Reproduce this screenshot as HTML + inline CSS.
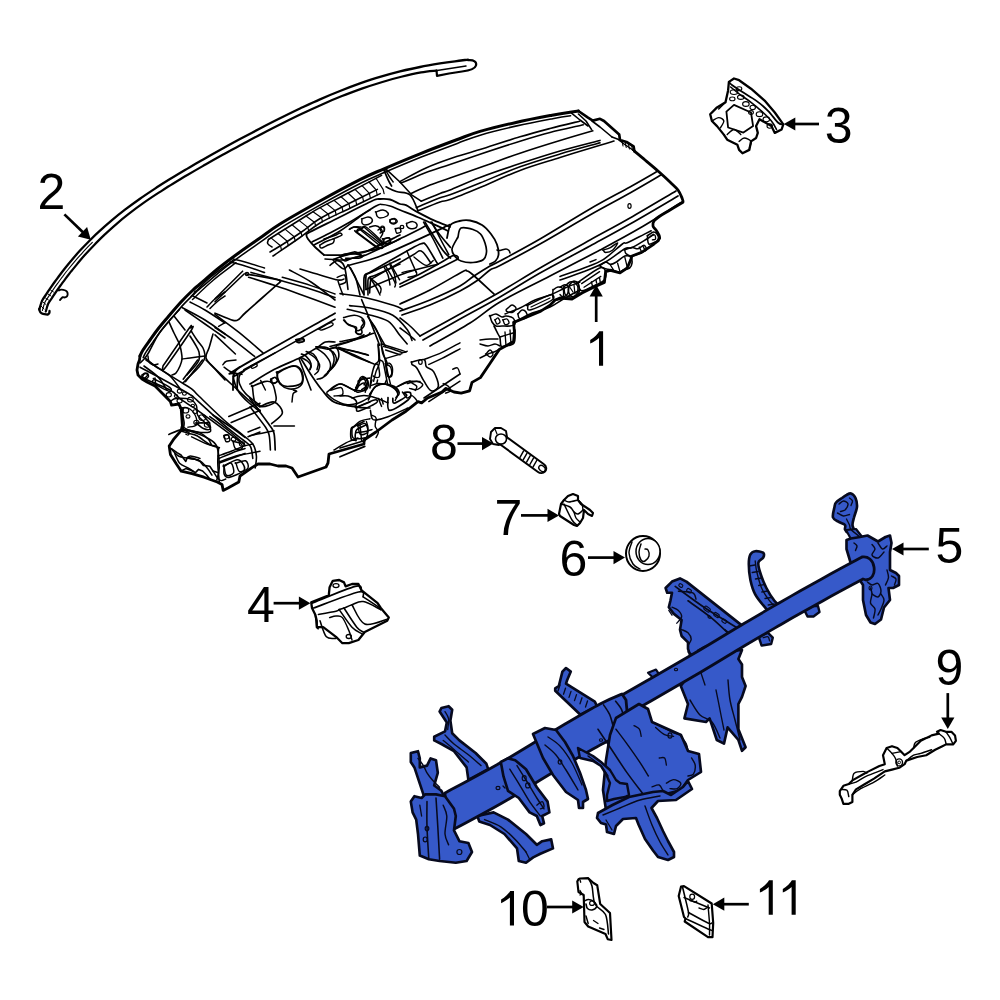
<!DOCTYPE html>
<html><head><meta charset="utf-8"><title>Instrument Panel Diagram</title>
<style>
html,body{margin:0;padding:0;background:#fff;width:1000px;height:1000px;overflow:hidden}
svg{display:block}
text{font-family:"Liberation Sans",sans-serif;font-size:50px;fill:#000}
</style></head><body>
<svg width="1000" height="1000" viewBox="0 0 1000 1000">
<rect width="1000" height="1000" fill="#fff"/>
<path d="M603.1,331.3 L599.3,331.3 C598.0,333.9 594.2,337.5 590.2,340.0 L590.2,343.6 C593.2,342.3 597.0,339.8 599.0,337.9 L599.0,365.8 L603.1,365.8 Z" fill="#000"/><text x="37.5" y="209.1">2</text><text x="824.8" y="143.3">3</text><text x="246.9" y="621.5">4</text><text x="935.6" y="563.4">5</text><text x="559.5" y="576.2">6</text><text x="494.4" y="534.7">7</text><text x="430.1" y="459.9">8</text><text x="935.6" y="685.2">9</text><path d="M514.0,890.9 L510.2,890.9 C508.9,893.5 505.1,897.1 501.1,899.6 L501.1,903.2 C504.1,901.9 507.9,899.4 509.9,897.5 L509.9,925.4 L514.0,925.4 Z" fill="#000"/><text x="520.9" y="925.9">0</text><path d="M772.8,880.3 L769.0,880.3 C767.7,882.9 763.9,886.5 759.9,889.0 L759.9,892.6 C762.9,891.3 766.7,888.8 768.7,886.9 L768.7,914.7 L772.8,914.7 Z" fill="#000"/><path d="M795.7,880.3 L791.9,880.3 C790.6,882.9 786.8,886.5 782.8,889.0 L782.8,892.6 C785.8,891.3 789.6,888.8 791.6,886.9 L791.6,914.7 L795.7,914.7 Z" fill="#000"/><line x1="596.2" y1="322.0" x2="596.2" y2="295.5" stroke="#000" stroke-width="2.7"/><path d="M596.2,285.0 L602.8,296.5 L589.6,296.5 Z" fill="#000"/><line x1="64.4" y1="214.4" x2="83.2" y2="232.5" stroke="#000" stroke-width="2.7"/><path d="M90.8,239.8 L77.9,236.6 L87.1,227.1 Z" fill="#000"/><line x1="819.0" y1="124.0" x2="794.3" y2="124.0" stroke="#000" stroke-width="2.7"/><path d="M783.8,124.0 L795.3,117.4 L795.3,130.6 Z" fill="#000"/><line x1="273.6" y1="603.2" x2="299.9" y2="603.2" stroke="#000" stroke-width="2.7"/><path d="M310.4,603.2 L298.9,609.8 L298.9,596.6 Z" fill="#000"/><line x1="928.8" y1="549.0" x2="902.5" y2="549.0" stroke="#000" stroke-width="2.7"/><path d="M892.0,549.0 L903.5,542.4 L903.5,555.6 Z" fill="#000"/><line x1="588.0" y1="557.6" x2="614.5" y2="557.6" stroke="#000" stroke-width="2.7"/><path d="M625.0,557.6 L613.5,564.2 L613.5,551.0 Z" fill="#000"/><line x1="521.0" y1="515.4" x2="548.5" y2="515.4" stroke="#000" stroke-width="2.7"/><path d="M559.0,515.4 L547.5,522.0 L547.5,508.8 Z" fill="#000"/><line x1="457.5" y1="443.6" x2="483.0" y2="443.6" stroke="#000" stroke-width="2.7"/><path d="M493.5,443.6 L482.0,450.2 L482.0,437.0 Z" fill="#000"/><line x1="947.8" y1="693.1" x2="947.8" y2="718.6" stroke="#000" stroke-width="2.7"/><path d="M947.8,729.1 L941.2,717.6 L954.4,717.6 Z" fill="#000"/><line x1="547.0" y1="907.0" x2="573.2" y2="907.0" stroke="#000" stroke-width="2.7"/><path d="M583.7,907.0 L572.2,913.6 L572.2,900.4 Z" fill="#000"/><line x1="748.8" y1="904.2" x2="723.3" y2="904.2" stroke="#000" stroke-width="2.7"/><path d="M712.8,904.2 L724.3,897.6 L724.3,910.8 Z" fill="#000"/><path d="M39.3,309.5 C39.8,308.1 40.9,303.4 42.0,300.9 C43.1,298.4 44.7,296.7 46.0,294.6 C47.3,292.6 48.5,290.8 50.0,288.7 C51.5,286.5 53.3,283.8 55.0,281.5 C56.7,279.2 58.2,277.1 60.0,274.7 C61.8,272.3 64.0,269.5 66.0,267.0 C68.0,264.5 69.7,262.4 72.0,259.7 C74.3,257.0 77.0,253.9 80.0,250.6 C83.0,247.4 86.7,243.5 90.0,240.2 C93.3,236.8 96.3,233.9 100.0,230.6 C103.7,227.3 107.8,223.6 112.0,220.1 C116.2,216.6 120.3,213.3 125.0,209.7 C129.7,206.1 135.0,202.2 140.0,198.7 C145.0,195.2 150.0,191.9 155.0,188.6 C160.0,185.3 165.0,182.2 170.0,179.1 C175.0,176.0 180.0,173.0 185.0,170.0 C190.0,167.1 194.2,164.6 200.0,161.3 C205.8,158.0 213.3,153.7 220.0,150.0 C226.7,146.3 233.3,142.7 240.0,139.1 C246.7,135.5 253.3,132.0 260.0,128.5 C266.7,125.0 273.3,121.6 280.0,118.3 C286.7,114.9 293.3,111.7 300.0,108.5 C306.7,105.4 313.3,102.3 320.0,99.4 C326.7,96.4 333.3,93.6 340.0,91.0 C346.7,88.3 353.3,85.8 360.0,83.4 C366.7,81.1 373.3,78.9 380.0,76.9 C386.7,74.9 393.3,73.1 400.0,71.4 C406.7,69.8 413.3,68.3 420.0,67.0 C426.7,65.7 434.2,64.4 440.0,63.4 C445.8,62.5 450.3,61.9 455.0,61.3 C459.7,60.6 465.8,59.9 468.0,59.6" fill="none" stroke="#000" stroke-linejoin="round" stroke-linecap="round" stroke-width="2.3"/><path d="M45.8,311.5 C46.2,310.2 47.2,305.9 48.2,303.7 C49.2,301.5 50.5,300.2 51.7,298.4 C52.9,296.5 54.1,294.6 55.6,292.5 C57.1,290.3 58.9,287.7 60.5,285.5 C62.2,283.2 63.6,281.2 65.4,278.8 C67.2,276.4 69.4,273.7 71.3,271.2 C73.3,268.8 74.9,266.8 77.1,264.1 C79.4,261.4 81.9,258.3 84.8,255.1 C87.7,251.8 91.3,248.0 94.5,244.7 C97.7,241.3 100.6,238.5 104.1,235.1 C107.7,231.8 111.7,228.1 115.8,224.6 C119.8,221.1 123.8,217.7 128.4,214.2 C133.0,210.6 138.2,206.7 143.2,203.2 C148.1,199.7 153.1,196.4 158.0,193.2 C163.0,190.0 167.9,186.8 172.9,183.8 C177.9,180.7 182.8,177.7 187.8,174.8 C192.8,171.8 196.9,169.4 202.7,166.1 C208.5,162.8 216.0,158.5 222.7,154.8 C229.3,151.2 236.0,147.5 242.6,144.0 C249.3,140.4 255.9,136.8 262.5,133.4 C269.2,129.9 275.8,126.5 282.5,123.2 C289.1,119.9 295.7,116.6 302.4,113.5 C309.0,110.3 315.6,107.3 322.2,104.4 C328.8,101.5 335.4,98.7 342.0,96.1 C348.6,93.4 355.2,91.0 361.8,88.6 C368.4,86.3 375.0,84.2 381.6,82.2 C388.2,80.2 394.7,78.4 401.3,76.8 C407.9,75.1 415.2,73.4 421.1,72.4 C426.9,71.3 433.9,70.9 436.5,70.6" fill="none" stroke="#000" stroke-linejoin="round" stroke-linecap="round" stroke-width="2.2"/><path d="M42.4,310.5 C42.8,309.1 43.9,304.6 44.9,302.2 C46.0,299.9 47.4,298.4 48.7,296.4 C50.0,294.4 51.2,292.6 52.6,290.5 C54.1,288.3 55.9,285.7 57.6,283.4 C59.3,281.1 60.7,279.0 62.6,276.6 C64.4,274.2 66.5,271.4 68.5,269.0 C70.5,266.5 72.1,264.5 74.4,261.8 C76.7,259.1 79.4,256.0 82.4,252.8 C85.3,249.6 90.7,244.1 92.3,242.4" fill="none" stroke="#000" stroke-linejoin="round" stroke-linecap="round" stroke-width="1.1"/><path d="M468,60.2 C474,59.6 477,62 476,65.5 C475,69 470,70.5 462,71.5 L449,73.5 L437,75.8 L436.5,70.5" fill="none" stroke="#000" stroke-linejoin="round" stroke-linecap="round" stroke-width="2.2"/><path d="M437,70.5 L466,66" fill="none" stroke="#000" stroke-linejoin="round" stroke-linecap="round" stroke-width="1.5"/><path d="M39.3,309 C39.5,312 41,313.5 43,313.8 L47.6,314.6 C49,314 49.8,313 49.5,311" fill="none" stroke="#000" stroke-linejoin="round" stroke-linecap="round" stroke-width="2.3"/><path d="M41,306 L44,309 M43,302 L46,304.5 M45.5,298 L48.5,300 M48,294 L51,296 M50.5,290 L53.5,292" fill="none" stroke="#000" stroke-linejoin="round" stroke-linecap="round" stroke-width="1"/><path d="M58.8,290.5 C60.5,289 63,289.5 65.5,290.5 C68.5,292 68.5,296.5 65,297.5 L62.5,297.2 C61,298.5 60.5,299.5 60,300" fill="none" stroke="#000" stroke-linejoin="round" stroke-linecap="round" stroke-width="1.8"/><path d="M140.0,356.0 C140.5,355.0 141.3,352.7 143.0,350.0 C144.7,347.3 147.5,343.5 150.0,340.0 C152.5,336.5 155.0,332.8 158.0,329.0 C161.0,325.2 164.2,321.5 168.0,317.0 C171.8,312.5 176.8,306.5 181.0,302.0 C185.2,297.5 189.8,293.0 193.0,290.0 C196.2,287.0 195.5,287.8 200.0,284.0 C204.5,280.2 213.3,272.3 220.0,267.0 C226.7,261.7 233.3,256.8 240.0,252.0 C246.7,247.2 253.3,242.7 260.0,238.0 C266.7,233.3 270.0,230.2 280.0,224.0 C290.0,217.8 306.7,208.4 320.0,201.0 C333.3,193.6 349.3,185.0 360.0,179.6 C370.7,174.2 374.0,173.1 384.0,168.8 C394.0,164.5 408.0,158.6 420.0,153.8 C432.0,149.0 446.0,143.7 456.0,140.0 C466.0,136.3 470.0,134.3 480.0,131.4 C490.0,128.5 504.0,125.1 516.0,122.4 C528.0,119.7 543.0,116.9 552.0,115.2 C561.0,113.5 565.6,112.9 570.0,112.2 C574.4,111.5 577.0,111.2 578.4,111.0" fill="none" stroke="#000" stroke-linejoin="round" stroke-linecap="round" stroke-width="3.05"/><path d="M143.2,357.6 C143.7,356.7 144.4,354.5 146.1,351.9 C147.7,349.3 150.5,345.5 152.9,342.1 C155.4,338.6 157.9,335.0 160.8,331.2 C163.8,327.4 166.9,323.8 170.7,319.3 C174.5,314.9 179.5,308.9 183.6,304.4 C187.8,300.0 192.4,295.6 195.5,292.6 C198.6,289.7 197.9,290.5 202.3,286.7 C206.8,282.9 215.6,275.1 222.2,269.8 C228.9,264.5 235.5,259.7 242.1,254.9 C248.7,250.1 255.4,245.6 262.1,240.9 C268.7,236.3 271.9,233.2 281.9,227.1 C291.8,220.9 308.5,211.5 321.7,204.1 C335.0,196.8 351.0,188.2 361.6,182.8 C372.2,177.5 375.5,176.4 385.4,172.1 C395.4,167.8 409.4,161.9 421.3,157.1 C433.3,152.4 447.3,147.1 457.3,143.4 C467.2,139.7 471.1,137.8 481.0,134.9 C490.9,131.9 504.8,128.6 516.8,125.9 C528.7,123.2 543.7,120.4 552.7,118.7 C561.6,117.0 567.6,116.2 570.6,115.8" fill="none" stroke="#000" stroke-linejoin="round" stroke-linecap="round" stroke-width="1.59"/><path d="M578.4,111.0 L588.0,117.6 L592.8,120.6 L600.0,118.8 L604.0,121.0 L619.2,134.4 L620.0,140.0 L626.5,142.0 L633.6,146.4 L634.4,151.2" fill="none" stroke="#000" stroke-linejoin="round" stroke-linecap="round" stroke-width="2.68"/><path d="M634.4,151.2 C636.2,152.7 641.1,156.7 645.0,160.0 C648.9,163.3 653.8,167.3 658.0,171.0 C662.2,174.7 666.7,178.8 670.0,182.0 C673.3,185.2 676.0,187.3 678.0,190.0 C680.0,192.7 681.2,196.0 682.0,198.0 C682.8,200.0 683.3,201.0 683.0,202.0 C682.7,203.0 682.2,202.7 680.0,204.0 C677.8,205.3 673.3,208.0 670.0,210.0 C666.7,212.0 662.7,214.2 660.0,216.0 C657.3,217.8 655.2,219.3 654.0,221.0 C652.8,222.7 652.7,224.5 653.0,226.0 C653.3,227.5 655.0,228.5 656.0,230.0 C657.0,231.5 658.4,233.7 659.0,235.0 C659.6,236.3 659.5,237.5 659.6,238.0" fill="none" stroke="#000" stroke-linejoin="round" stroke-linecap="round" stroke-width="2.81"/><path d="M140.0,356.0 L139.5,360.0 L138.0,364.0 L137.0,370.0 L138.0,375.0 L142.0,379.0 L147.0,382.0 L155.0,386.0 L160.0,391.0 L170.4,401.6 L171.6,405.2 L178.8,404.0 L181.2,408.8 L182.4,425.6 L181.2,430.4 L174.0,438.8 L169.2,446.0 L170.4,454.4 L176.4,464.0 L181.2,471.2 L192.0,473.6 L204.0,477.2 L217.2,482.0 L222.0,484.4 L223.2,490.4 L228.0,488.0 L238.8,482.0 L240.0,476.0 L252.0,467.6 L258.0,464.0 L270.0,464.0 L278.0,466.0 L286.0,466.0 L292.0,468.0 L298.0,477.0 L326.0,467.0 L328.0,463.0 L329.0,454.0 L364.0,444.0 L364.0,440.0 L376.0,432.0 L392.0,420.0 L406.0,411.2 L418.0,401.6 L421.6,402.8 L427.6,398.0 L442.0,392.0 L445.6,388.4 L454.0,392.0 L461.2,393.2 L469.6,390.8 L472.0,382.4 L480.4,377.6 L489.6,364.0 L499.2,349.6 L513.6,341.6 L514.4,332.0 L513.6,322.4 L521.6,319.2 L540.8,311.2 L550.4,304.8 L555.2,300.0 L560.0,298.0 L572.0,299.0 L582.0,293.0 L593.6,287.2 L604.4,282.4 L605.6,271.6 L610.4,270.4 L620.0,272.8 L627.2,268.0 L630.8,259.6 L632.0,256.0 L641.6,252.4 L648.8,247.6 L654.0,244.0 L658.0,241.0 L659.6,238.0" fill="none" stroke="#000" stroke-linejoin="round" stroke-linecap="round" stroke-width="2.81"/><path d="M400.4,182.0 C400.7,181.7 397.7,182.7 402.0,180.4 C406.3,178.1 418.0,171.6 426.0,168.0 C434.0,164.4 441.0,161.9 450.0,158.8 C459.0,155.7 468.3,153.3 480.0,149.6 C491.7,145.9 508.3,140.3 520.0,136.8 C531.7,133.3 540.1,131.1 550.0,128.5 C559.9,125.9 574.7,122.4 579.6,121.2" fill="none" stroke="#000" stroke-linejoin="round" stroke-linecap="round" stroke-width="1.59"/><path d="M400.4,182.0 C400.9,182.0 399.3,183.6 403.6,182.0 C407.9,180.4 418.3,175.4 426.0,172.5 C433.7,169.6 441.0,167.5 450.0,164.4 C459.0,161.3 468.3,158.1 480.0,154.2 C491.7,150.3 508.3,144.8 520.0,141.2 C531.7,137.6 539.5,135.2 550.0,132.5 C560.5,129.8 577.7,126.1 583.2,124.8" fill="none" stroke="#000" stroke-linejoin="round" stroke-linecap="round" stroke-width="1.59"/><path d="M411.6,193.2 C414.7,191.8 423.6,187.5 430.0,185.0 C436.4,182.5 441.7,180.9 450.0,178.0 C458.3,175.1 468.3,171.7 480.0,167.6 C491.7,163.5 506.7,157.7 520.0,153.2 C533.3,148.7 547.9,144.2 560.0,140.5 C572.1,136.8 587.3,132.4 592.8,130.8" fill="none" stroke="#000" stroke-linejoin="round" stroke-linecap="round" stroke-width="1.59"/><path d="M421.2,201.2 C424.3,199.9 435.2,195.4 440.0,193.5 C444.8,191.6 443.3,192.7 450.0,190.0 C456.7,187.3 468.3,181.9 480.0,177.5 C491.7,173.1 506.7,168.0 520.0,163.6 C533.3,159.2 546.7,154.9 560.0,151.0 C573.3,147.1 593.3,142.2 600.0,140.4" fill="none" stroke="#000" stroke-linejoin="round" stroke-linecap="round" stroke-width="1.59"/><path d="M416.4,207.6 C420.3,206.0 434.4,199.9 440.0,197.8 C445.6,195.7 443.3,197.3 450.0,194.8 C456.7,192.3 468.3,187.7 480.0,183.0 C491.7,178.3 506.7,171.6 520.0,166.8 C533.3,162.0 546.7,158.0 560.0,154.0 C573.3,150.0 593.3,144.7 600.0,142.8" fill="none" stroke="#000" stroke-linejoin="round" stroke-linecap="round" stroke-width="1.59"/><path d="M418.0,210.8 C421.7,209.3 434.7,203.9 440.0,202.0 C445.3,200.1 443.3,202.0 450.0,199.6 C456.7,197.2 468.3,192.4 480.0,187.5 C491.7,182.6 506.7,175.4 520.0,170.4 C533.3,165.4 546.7,161.7 560.0,157.5 C573.3,153.3 591.0,147.9 600.0,145.2 C609.0,142.4 611.7,141.7 614.0,141.0" fill="none" stroke="#000" stroke-linejoin="round" stroke-linecap="round" stroke-width="1.59"/><path d="M383.6,169.2 C384.4,171.1 387.1,177.6 388.4,180.4 C389.7,183.2 391.1,185.1 391.6,186.0" fill="none" stroke="#000" stroke-linejoin="round" stroke-linecap="round" stroke-width="1.71"/><path d="M385.2,169.2 C385.8,170.3 387.7,173.9 389.0,176.0 C390.3,178.1 392.5,181.0 393.2,182.0" fill="none" stroke="#000" stroke-linejoin="round" stroke-linecap="round" stroke-width="1.46"/><path d="M386.0,169.2 L400.0,182.0 L411.6,194.8 L421.2,201.2" fill="none" stroke="#000" stroke-linejoin="round" stroke-linecap="round" stroke-width="1.59"/><path d="M386.0,186.8 C387.7,187.6 392.4,190.3 396.4,191.6 C400.4,192.9 406.4,191.6 410.0,194.8 C413.6,198.0 416.7,208.1 418.0,210.8" fill="none" stroke="#000" stroke-linejoin="round" stroke-linecap="round" stroke-width="1.59"/><path d="M571.2,112.8 L580.0,120.0 L588.0,126.0" fill="none" stroke="#000" stroke-linejoin="round" stroke-linecap="round" stroke-width="1.59"/><path d="M578.4,114.0 L586.0,121.0 L591.6,129.6" fill="none" stroke="#000" stroke-linejoin="round" stroke-linecap="round" stroke-width="1.59"/><path d="M592.0,121.0 L600.0,127.0 L612.0,137.0" fill="none" stroke="#000" stroke-linejoin="round" stroke-linecap="round" stroke-width="1.59"/><path d="M612.0,137.0 L620.0,140.0" fill="none" stroke="#000" stroke-linejoin="round" stroke-linecap="round" stroke-width="1.59"/><path d="M619.0,140.0 L624.0,144.0 L630.0,148.0 L634.0,151.0" fill="none" stroke="#000" stroke-linejoin="round" stroke-linecap="round" stroke-width="1.46"/><path d="M622.0,141.0 L623.0,146.0 M625.2,142.5 L626.2,147.5 M628.4,144.0 L629.4,149.0 M631.6,145.5 L632.6,150.5" fill="none" stroke="#000" stroke-linejoin="round" stroke-linecap="round" stroke-width="1.1"/><path d="M268.5,239.5 C272.1,237.2 283.1,230.3 290.0,226.0 C296.9,221.7 305.0,216.6 310.0,213.5 C315.0,210.4 313.3,211.2 320.0,207.6 C326.7,204.0 339.7,197.4 350.0,192.0 C360.3,186.6 376.3,178.2 381.6,175.4" fill="none" stroke="#000" stroke-linejoin="round" stroke-linecap="round" stroke-width="1.59"/><path d="M270.0,252.0 C272.1,250.8 277.2,247.8 282.5,244.5 C287.8,241.2 295.2,236.3 301.5,232.0 C307.8,227.7 311.9,223.3 320.0,218.5 C328.1,213.7 340.4,207.8 350.0,203.0 C359.6,198.2 372.8,191.7 377.4,189.4" fill="none" stroke="#000" stroke-linejoin="round" stroke-linecap="round" stroke-width="1.59"/><path d="M273.0,256.0 C277.5,252.9 292.2,243.0 300.0,237.5 C307.8,232.0 311.7,227.9 320.0,223.0 C328.3,218.1 340.0,213.1 350.0,208.2 C360.0,203.3 375.2,196.0 380.2,193.6" fill="none" stroke="#000" stroke-linejoin="round" stroke-linecap="round" stroke-width="1.59"/><path d="M268.5,239.5 C268.3,240.1 267.4,242.1 267.5,243.0 C267.6,243.9 268.2,244.3 269.0,245.0 C269.8,245.7 271.5,246.7 272.0,247.0" fill="none" stroke="#000" stroke-linejoin="round" stroke-linecap="round" stroke-width="1.59"/><path d="M271.0,237.9 L280.5,245.7 M280.5,245.7 L281.5,250.2 M278.0,233.5 L287.3,241.3 M287.3,241.3 L288.3,245.5 M285.0,229.1 L294.2,236.8 M294.2,236.8 L295.2,240.8 M292.0,224.8 L301.0,232.3 M301.0,232.3 L302.0,236.1 M299.0,220.4 L307.8,227.4 M307.8,227.4 L308.8,231.1 M306.0,216.0 L314.7,222.4 M314.7,222.4 L315.7,226.1 M313.0,211.7 L321.5,217.7 M321.5,217.7 L322.5,221.8 M320.0,207.6 L328.4,214.2 M328.4,214.2 L329.4,218.4 M327.0,204.0 L335.2,210.6 M335.2,210.6 L336.2,215.0 M334.0,200.3 L342.0,207.1 M342.0,207.1 L343.0,211.6 M341.0,196.7 L348.9,203.6 M348.9,203.6 L349.9,208.3 M348.0,193.0 L355.7,200.2 M355.7,200.2 L356.7,204.9 M355.0,189.4 L362.6,196.8 M362.6,196.8 L363.6,201.6 M362.0,185.7 L369.4,193.4 M369.4,193.4 L370.4,198.3 M369.0,182.0 L376.2,190.0 M376.2,190.0 L377.2,195.0 M376.0,178.3 L383.1,189.4 M383.1,189.4 L384.1,193.6" fill="none" stroke="#000" stroke-linejoin="round" stroke-linecap="round" stroke-width="1.2"/><path d="M324.0,255.0 C322.5,253.7 317.7,249.7 315.0,247.0 C312.3,244.3 309.4,241.0 308.0,239.0 C306.6,237.0 306.2,236.2 306.5,235.0 C306.8,233.8 304.4,235.0 310.0,232.0 C315.6,229.0 329.7,222.2 340.0,217.0 C350.3,211.8 365.3,204.0 372.0,201.0 C378.7,198.0 377.0,199.2 380.0,199.0 C383.0,198.8 386.7,198.7 390.0,199.5 C393.3,200.3 397.3,203.1 400.0,204.0 C402.7,204.9 403.0,203.8 406.0,205.2 C409.0,206.6 413.3,209.9 418.0,212.4 C422.7,214.9 428.7,218.0 434.0,220.4 C439.3,222.8 447.3,225.7 450.0,226.8" fill="none" stroke="#000" stroke-linejoin="round" stroke-linecap="round" stroke-width="1.83"/><path d="M312.0,242.0 C315.0,240.5 323.7,236.3 330.0,233.0 C336.3,229.7 342.3,226.5 350.0,222.0 C357.7,217.5 370.7,208.9 376.0,206.0 C381.3,203.1 379.7,204.5 382.0,204.5 C384.3,204.5 387.0,205.1 390.0,206.0 C393.0,206.9 395.3,208.1 400.0,210.0 C404.7,211.9 412.3,214.8 418.0,217.2 C423.7,219.6 429.0,222.1 434.0,224.4 C439.0,226.7 445.7,229.9 448.0,231.0" fill="none" stroke="#000" stroke-linejoin="round" stroke-linecap="round" stroke-width="1.71"/><path d="M314.0,245.0 C318.3,242.7 332.0,236.0 340.0,231.0 C348.0,226.0 357.0,218.5 362.0,215.0 C367.0,211.5 368.7,210.8 370.0,210.0" fill="none" stroke="#000" stroke-linejoin="round" stroke-linecap="round" stroke-width="1.59"/><path d="M356.0,232.0 L376.0,247.0 L379.0,245.0 L360.0,229.5 L356.0,232.0" fill="none" stroke="#000" stroke-linejoin="round" stroke-linecap="round" stroke-width="1.59"/><path d="M360.0,229.5 L364.0,227.0 L382.0,243.0 L379.0,245.0" fill="none" stroke="#000" stroke-linejoin="round" stroke-linecap="round" stroke-width="1.59"/><path d="M350.0,229.0 C350.7,228.7 352.3,227.2 354.0,227.0 C355.7,226.8 359.0,227.8 360.0,228.0" fill="none" stroke="#000" stroke-linejoin="round" stroke-linecap="round" stroke-width="1.46"/><path d="M362.0,219.0 C363.0,218.7 366.3,217.0 368.0,217.0 C369.7,217.0 371.5,218.0 372.0,219.0 C372.5,220.0 372.2,222.0 371.0,223.0 C369.8,224.0 366.5,225.0 365.0,225.0 C363.5,225.0 362.5,224.0 362.0,223.0 C361.5,222.0 362.0,219.7 362.0,219.0 C362.0,218.3 361.0,219.3 362.0,219.0 Z" fill="none" stroke="#000" stroke-linejoin="round" stroke-linecap="round" stroke-width="1.46"/><path d="M376.0,212.0 C377.2,211.7 381.0,209.8 383.0,210.0 C385.0,210.2 387.3,212.0 388.0,213.0 C388.7,214.0 388.3,215.2 387.0,216.0 C385.7,216.8 381.7,218.0 380.0,218.0 C378.3,218.0 377.7,217.0 377.0,216.0 C376.3,215.0 376.2,212.7 376.0,212.0 C375.8,211.3 374.8,212.3 376.0,212.0 Z" fill="none" stroke="#000" stroke-linejoin="round" stroke-linecap="round" stroke-width="1.46"/><path d="M384.0,239.0 C384.8,238.8 388.0,237.5 389.0,238.0 C390.0,238.5 390.5,241.0 390.0,242.0 C389.5,243.0 387.0,244.0 386.0,244.0 C385.0,244.0 384.3,242.8 384.0,242.0 C383.7,241.2 384.0,239.5 384.0,239.0 C384.0,238.5 383.2,239.2 384.0,239.0 Z" fill="none" stroke="#000" stroke-linejoin="round" stroke-linecap="round" stroke-width="1.46"/><ellipse cx="393" cy="221" rx="3" ry="2.2" fill="none" stroke="#000" stroke-width="1.2"/><ellipse cx="382.5" cy="229" rx="2.2" ry="3" fill="none" stroke="#000" stroke-width="1.2"/><path d="M378.0,230.0 C378.8,229.5 382.0,226.8 383.0,227.0 C384.0,227.2 384.5,230.0 384.0,231.0 C383.5,232.0 380.7,232.7 380.0,233.0" fill="none" stroke="#000" stroke-linejoin="round" stroke-linecap="round" stroke-width="1.46"/><path d="M320.0,245.0 C320.8,244.5 323.3,242.8 325.0,242.0 C326.7,241.2 328.5,240.5 330.0,240.0 C331.5,239.5 333.5,238.5 334.0,239.0 C334.5,239.5 334.0,242.0 333.0,243.0 C332.0,244.0 329.8,244.2 328.0,245.0 C326.2,245.8 323.3,247.7 322.0,248.0 C320.7,248.3 320.3,247.5 320.0,247.0 C319.7,246.5 320.0,245.3 320.0,245.0 C320.0,244.7 319.2,245.5 320.0,245.0 Z" fill="none" stroke="#000" stroke-linejoin="round" stroke-linecap="round" stroke-width="1.46"/><path d="M324.0,239.0 C325.0,238.7 328.0,237.7 330.0,237.0 C332.0,236.3 334.3,235.7 336.0,235.0 C337.7,234.3 339.0,233.0 340.0,233.0 C341.0,233.0 342.3,234.3 342.0,235.0 C341.7,235.7 339.5,236.3 338.0,237.0 C336.5,237.7 333.8,238.7 333.0,239.0" fill="none" stroke="#000" stroke-linejoin="round" stroke-linecap="round" stroke-width="1.46"/><path d="M324.0,255.0 C327.0,255.0 337.0,255.5 342.0,255.0 C347.0,254.5 350.2,252.5 354.0,252.0 C357.8,251.5 357.3,254.8 365.0,252.0 C372.7,249.2 394.2,237.8 400.0,235.0" fill="none" stroke="#000" stroke-linejoin="round" stroke-linecap="round" stroke-width="1.71"/><path d="M325.0,259.0 C328.2,259.2 338.8,260.3 344.0,260.0 C349.2,259.7 352.3,257.8 356.0,257.0 C359.7,256.2 358.7,258.0 366.0,255.0 C373.3,252.0 394.3,241.7 400.0,239.0" fill="none" stroke="#000" stroke-linejoin="round" stroke-linecap="round" stroke-width="1.59"/><path d="M342.0,255.0 C342.7,254.8 343.7,254.2 346.0,254.0 C348.3,253.8 353.3,253.7 356.0,254.0 C358.7,254.3 360.7,255.8 362.0,256.0 C363.3,256.2 363.7,255.2 364.0,255.0" fill="none" stroke="#000" stroke-linejoin="round" stroke-linecap="round" stroke-width="1.46"/><path d="M340.0,257.0 C340.8,257.7 343.3,260.7 345.0,261.0 C346.7,261.3 347.8,259.7 350.0,259.0 C352.2,258.3 356.7,257.3 358.0,257.0" fill="none" stroke="#000" stroke-linejoin="round" stroke-linecap="round" stroke-width="1.46"/><path d="M348.0,265.0 C348.7,266.0 350.7,268.7 352.0,271.0 C353.3,273.3 354.7,275.0 356.0,279.0 C357.3,283.0 359.3,292.3 360.0,295.0" fill="none" stroke="#000" stroke-linejoin="round" stroke-linecap="round" stroke-width="1.59"/><path d="M300.0,269.0 C303.3,270.0 313.7,273.2 320.0,275.0 C326.3,276.8 334.0,279.3 338.0,280.0 C342.0,280.7 343.0,279.2 344.0,279.0" fill="none" stroke="#000" stroke-linejoin="round" stroke-linecap="round" stroke-width="1.59"/><path d="M333.0,260.0 C333.8,260.8 336.2,263.5 338.0,265.0 C339.8,266.5 342.3,269.0 344.0,269.0 C345.7,269.0 347.3,265.7 348.0,265.0" fill="none" stroke="#000" stroke-linejoin="round" stroke-linecap="round" stroke-width="1.46"/><path d="M338.0,281.0 C338.3,282.0 339.2,284.7 340.0,287.0 C340.8,289.3 342.5,293.7 343.0,295.0" fill="none" stroke="#000" stroke-linejoin="round" stroke-linecap="round" stroke-width="1.46"/><path d="M364.0,295.0 C364.0,292.2 363.7,281.5 364.0,278.0 C364.3,274.5 364.7,275.0 366.0,274.0 C367.3,273.0 366.3,274.5 372.0,272.0 C377.7,269.5 395.3,261.2 400.0,259.0" fill="none" stroke="#000" stroke-linejoin="round" stroke-linecap="round" stroke-width="1.71"/><path d="M368.0,295.0 C368.0,292.5 367.7,283.0 368.0,280.0 C368.3,277.0 368.7,277.8 370.0,277.0 C371.3,276.2 371.0,277.2 376.0,275.0 C381.0,272.8 396.0,265.8 400.0,264.0" fill="none" stroke="#000" stroke-linejoin="round" stroke-linecap="round" stroke-width="1.59"/><path d="M370.0,278.0 C371.0,279.5 374.3,284.2 376.0,287.0 C377.7,289.8 379.3,293.7 380.0,295.0" fill="none" stroke="#000" stroke-linejoin="round" stroke-linecap="round" stroke-width="1.46"/><path d="M384.0,267.0 C384.7,268.3 387.0,272.0 388.0,275.0 C389.0,278.0 389.7,283.3 390.0,285.0" fill="none" stroke="#000" stroke-linejoin="round" stroke-linecap="round" stroke-width="1.46"/><path d="M390.0,265.0 C390.7,266.3 393.0,270.0 394.0,273.0 C395.0,276.0 395.7,281.3 396.0,283.0" fill="none" stroke="#000" stroke-linejoin="round" stroke-linecap="round" stroke-width="1.46"/><path d="M400.0,311.0 C405.0,309.2 420.0,304.2 430.0,300.0 C440.0,295.8 452.7,290.0 460.0,286.0 C467.3,282.0 469.0,279.3 474.0,276.0 C479.0,272.7 485.7,268.5 490.0,266.0 C494.3,263.5 491.7,265.5 500.0,261.0 C508.3,256.5 525.0,247.7 540.0,239.0 C555.0,230.3 575.0,217.7 590.0,209.0 C605.0,200.3 618.7,193.3 630.0,187.0 C641.3,180.7 653.3,173.7 658.0,171.0" fill="none" stroke="#000" stroke-linejoin="round" stroke-linecap="round" stroke-width="1.71"/><path d="M402.0,315.0 C406.7,313.3 420.3,309.0 430.0,305.0 C439.7,301.0 452.0,295.2 460.0,291.0 C468.0,286.8 473.0,283.5 478.0,280.0 C483.0,276.5 486.3,272.4 490.0,270.0 C493.7,267.6 491.7,269.8 500.0,265.5 C508.3,261.2 525.0,252.4 540.0,244.0 C555.0,235.6 575.0,223.5 590.0,215.0 C605.0,206.5 618.2,199.7 630.0,193.0 C641.8,186.3 655.8,178.0 661.0,175.0" fill="none" stroke="#000" stroke-linejoin="round" stroke-linecap="round" stroke-width="1.71"/><path d="M400.0,304.0 C405.0,301.7 419.7,295.3 430.0,290.0 C440.3,284.7 455.8,275.2 462.0,272.0 C468.2,268.8 465.3,270.7 467.0,271.0 C468.7,271.3 467.5,270.2 472.0,274.0 C476.5,277.8 490.3,290.7 494.0,294.0" fill="none" stroke="#000" stroke-linejoin="round" stroke-linecap="round" stroke-width="1.71"/><path d="M420.0,336.0 C426.7,332.3 446.7,321.3 460.0,314.0 C473.3,306.7 486.7,299.7 500.0,292.0 C513.3,284.3 525.0,276.7 540.0,268.0 C555.0,259.3 575.0,248.3 590.0,240.0 C605.0,231.7 615.7,226.2 630.0,218.0 C644.3,209.8 668.3,195.5 676.0,191.0" fill="none" stroke="#000" stroke-linejoin="round" stroke-linecap="round" stroke-width="1.71"/><path d="M423.0,340.0 C429.2,336.5 447.2,326.2 460.0,319.0 C472.8,311.8 486.7,304.7 500.0,297.0 C513.3,289.3 525.0,281.5 540.0,273.0 C555.0,264.5 575.0,254.2 590.0,246.0 C605.0,237.8 615.3,232.3 630.0,224.0 C644.7,215.7 670.0,200.7 678.0,196.0" fill="none" stroke="#000" stroke-linejoin="round" stroke-linecap="round" stroke-width="1.71"/><path d="M430.0,346.0 C436.7,342.2 458.3,330.3 470.0,323.0 C481.7,315.7 486.7,309.8 500.0,302.0 C513.3,294.2 533.3,284.7 550.0,276.0 C566.7,267.3 585.0,258.0 600.0,250.0 C615.0,242.0 626.3,236.0 640.0,228.0 C653.7,220.0 675.0,206.3 682.0,202.0" fill="none" stroke="#000" stroke-linejoin="round" stroke-linecap="round" stroke-width="1.71"/><path d="M400.0,318.0 C401.7,319.3 406.7,323.0 410.0,326.0 C413.3,329.0 418.3,334.3 420.0,336.0" fill="none" stroke="#000" stroke-linejoin="round" stroke-linecap="round" stroke-width="1.59"/><path d="M400.0,328.0 C401.3,329.0 405.5,332.0 408.0,334.0 C410.5,336.0 413.8,339.0 415.0,340.0" fill="none" stroke="#000" stroke-linejoin="round" stroke-linecap="round" stroke-width="1.59"/><path d="M400.0,284.0 C403.3,282.3 413.3,277.5 420.0,274.0 C426.7,270.5 434.7,266.0 440.0,263.0 C445.3,260.0 449.2,257.2 452.0,256.0 C454.8,254.8 456.0,255.5 457.0,256.0 C458.0,256.5 458.2,258.3 458.0,259.0 C457.8,259.7 459.0,258.5 456.0,260.0 C453.0,261.5 446.0,265.0 440.0,268.0 C434.0,271.0 426.7,274.8 420.0,278.0 C413.3,281.2 403.3,285.5 400.0,287.0" fill="none" stroke="#000" stroke-linejoin="round" stroke-linecap="round" stroke-width="1.71"/><path d="M447.0,238.0 C447.6,235.8 448.4,227.8 450.5,225.0 C452.6,222.2 456.2,221.8 459.5,221.0 C462.8,220.2 466.2,219.8 470.0,220.5 C473.8,221.2 478.5,222.8 482.0,225.0 C485.5,227.2 488.5,230.8 491.0,234.0 C493.5,237.2 495.8,241.0 497.0,244.5 C498.2,248.0 498.8,252.2 498.5,255.0 C498.2,257.8 496.9,259.5 495.5,261.0 C494.1,262.5 490.9,263.5 490.0,264.0" fill="none" stroke="#000" stroke-linejoin="round" stroke-linecap="round" stroke-width="1.83"/><path d="M458.0,237.0 C458.5,235.5 458.5,229.2 461.0,228.0 C463.5,226.8 469.8,228.5 473.0,229.5 C476.2,230.5 478.5,231.8 480.5,234.0 C482.5,236.2 484.0,240.0 485.0,243.0 C486.0,246.0 486.8,249.2 486.5,252.0 C486.2,254.8 485.8,257.8 483.5,259.5 C481.2,261.2 476.8,262.2 473.0,262.5 C469.2,262.8 464.0,262.0 461.0,261.0 C458.0,260.0 456.5,258.5 455.0,256.5 C453.5,254.5 451.5,252.2 452.0,249.0 C452.5,245.8 457.0,239.0 458.0,237.0" fill="none" stroke="#000" stroke-linejoin="round" stroke-linecap="round" stroke-width="1.71"/><path d="M497.0,250.0 C497.5,250.1 498.5,250.7 500.0,250.5 C501.5,250.3 504.5,249.0 506.0,249.0 C507.5,249.0 508.3,249.8 509.0,250.5 C509.7,251.2 509.8,252.6 510.0,253.0" fill="none" stroke="#000" stroke-linejoin="round" stroke-linecap="round" stroke-width="1.59"/><path d="M425.0,222.0 C425.8,223.2 426.5,224.8 429.5,229.5 C432.5,234.2 439.5,245.8 443.0,250.5 C446.5,255.2 449.2,256.8 450.5,258.0" fill="none" stroke="#000" stroke-linejoin="round" stroke-linecap="round" stroke-width="1.71"/><path d="M431.0,222.0 C432.5,224.2 436.8,230.8 440.0,235.0 C443.2,239.2 448.8,245.4 450.5,247.5" fill="none" stroke="#000" stroke-linejoin="round" stroke-linecap="round" stroke-width="1.59"/><path d="M560.0,276.4 C564.0,275.0 576.8,270.8 584.0,268.0 C591.2,265.2 596.8,263.6 603.2,259.6 C609.6,255.6 618.4,246.8 622.4,244.0 C626.4,241.2 623.6,244.4 627.2,242.8 C630.8,241.2 640.0,236.4 644.0,234.4 C648.0,232.4 650.0,231.4 651.2,230.8" fill="none" stroke="#000" stroke-linejoin="round" stroke-linecap="round" stroke-width="1.59"/><path d="M560.0,280.0 C564.0,278.6 576.4,274.6 584.0,271.6 C591.6,268.6 598.8,265.8 605.6,262.0 C612.4,258.2 620.4,251.2 624.8,248.8 C629.2,246.4 628.4,249.2 632.0,247.6 C635.6,246.0 642.8,241.4 646.4,239.2 C650.0,237.0 652.4,235.2 653.6,234.4" fill="none" stroke="#000" stroke-linejoin="round" stroke-linecap="round" stroke-width="1.59"/><path d="M603.2,250.0 C604.4,249.6 608.0,248.8 610.4,247.6 C612.8,246.4 617.2,242.4 617.6,242.8 C618.0,243.2 614.8,248.4 612.8,250.0 C610.8,251.6 607.2,252.4 605.6,252.4 C604.0,252.4 603.6,250.4 603.2,250.0 C602.8,249.6 602.0,250.4 603.2,250.0 Z" fill="none" stroke="#000" stroke-linejoin="round" stroke-linecap="round" stroke-width="1.46"/><path d="M590.0,262.0 L596.0,259.6" fill="none" stroke="#000" stroke-linejoin="round" stroke-linecap="round" stroke-width="1.46"/><path d="M578.0,282.4 C581.6,280.0 595.0,269.8 599.6,268.0 C604.2,266.2 604.8,269.6 605.6,271.6 C606.4,273.6 606.0,277.8 604.4,280.0 C602.8,282.2 599.8,283.0 596.0,284.8 C592.2,286.6 584.6,291.2 581.6,290.8 C578.6,290.4 578.6,283.8 578.0,282.4 C577.4,281.0 574.4,284.8 578.0,282.4 Z" fill="none" stroke="#000" stroke-linejoin="round" stroke-linecap="round" stroke-width="1.59"/><path d="M581.6,283.6 L599.6,271.6" fill="none" stroke="#000" stroke-linejoin="round" stroke-linecap="round" stroke-width="1.34"/><path d="M584.0,287.2 L600.8,276.4" fill="none" stroke="#000" stroke-linejoin="round" stroke-linecap="round" stroke-width="1.34"/><path d="M591.4,281.8 L592.6,286.6" fill="none" stroke="#000" stroke-linejoin="round" stroke-linecap="round" stroke-width="1.34"/><path d="M596.0,280.0 L596.6,283.0" fill="none" stroke="#000" stroke-linejoin="round" stroke-linecap="round" stroke-width="1.34"/><path d="M599.6,278.2 L600.2,281.8" fill="none" stroke="#000" stroke-linejoin="round" stroke-linecap="round" stroke-width="1.34"/><path d="M569.6,284.8 C570.2,284.2 571.8,281.4 573.2,281.2 C574.6,281.0 577.0,281.8 578.0,283.6 C579.0,285.4 579.8,289.8 579.2,292.0 C578.6,294.2 576.0,296.4 574.4,296.8 C572.8,297.2 570.6,295.6 569.6,294.4 C568.6,293.2 568.4,291.2 568.4,289.6 C568.4,288.0 569.4,285.6 569.6,284.8 C569.8,284.0 569.0,285.4 569.6,284.8 Z" fill="none" stroke="#000" stroke-linejoin="round" stroke-linecap="round" stroke-width="1.59"/><path d="M560.0,287.2 C560.8,286.8 563.4,284.8 564.8,284.8 C566.2,284.8 568.0,285.6 568.4,287.2 C568.8,288.8 568.2,292.8 567.2,294.4 C566.2,296.0 563.6,296.8 562.4,296.8 C561.2,296.8 560.4,294.8 560.0,294.4" fill="none" stroke="#000" stroke-linejoin="round" stroke-linecap="round" stroke-width="1.46"/><path d="M599.6,265.6 C600.6,265.0 603.8,262.2 605.6,262.0 C607.4,261.8 608.6,264.4 610.4,264.4 C612.2,264.4 614.0,263.4 616.4,262.0 C618.8,260.6 622.4,256.8 624.8,256.0 C627.2,255.2 629.6,256.0 630.8,257.2 C632.0,258.4 632.2,261.4 632.0,263.2 C631.8,265.0 631.2,266.8 629.6,268.0 C628.0,269.2 624.0,269.6 622.4,270.4 C620.8,271.2 621.4,272.8 620.0,272.8 C618.6,272.8 616.0,271.0 614.0,270.4 C612.0,269.8 609.8,269.6 608.0,269.2 C606.2,268.8 604.6,268.6 603.2,268.0 C601.8,267.4 600.2,266.0 599.6,265.6 C599.0,265.2 598.6,266.2 599.6,265.6 Z" fill="none" stroke="#000" stroke-linejoin="round" stroke-linecap="round" stroke-width="1.59"/><path d="M610.4,265.0 L613.4,269.8" fill="none" stroke="#000" stroke-linejoin="round" stroke-linecap="round" stroke-width="1.34"/><path d="M617.6,263.2 L620.0,271.6" fill="none" stroke="#000" stroke-linejoin="round" stroke-linecap="round" stroke-width="1.34"/><path d="M624.8,257.2 L627.2,266.8" fill="none" stroke="#000" stroke-linejoin="round" stroke-linecap="round" stroke-width="1.34"/><path d="M624.8,250.0 C626.0,249.6 629.8,247.8 632.0,247.6 C634.2,247.4 636.0,249.2 638.0,248.8 C640.0,248.4 642.6,245.0 644.0,245.2 C645.4,245.4 646.8,248.8 646.4,250.0 C646.0,251.2 644.0,251.4 641.6,252.4 C639.2,253.4 634.6,255.8 632.0,256.0 C629.4,256.2 627.2,254.6 626.0,253.6 C624.8,252.6 625.0,250.6 624.8,250.0 C624.6,249.4 623.6,250.4 624.8,250.0 Z" fill="none" stroke="#000" stroke-linejoin="round" stroke-linecap="round" stroke-width="1.46"/><path d="M639.2,247.0 L641.6,251.8" fill="none" stroke="#000" stroke-linejoin="round" stroke-linecap="round" stroke-width="1.34"/><path d="M642.8,245.8 L645.2,250.6" fill="none" stroke="#000" stroke-linejoin="round" stroke-linecap="round" stroke-width="1.34"/><path d="M647.6,235.6 C648.6,235.0 652.0,232.2 653.6,232.0 C655.2,231.8 656.4,233.2 657.2,234.4 C658.0,235.6 659.0,237.8 658.4,239.2 C657.8,240.6 655.2,242.0 653.6,242.8 C652.0,243.6 649.8,244.6 648.8,244.0 C647.8,243.4 647.8,240.6 647.6,239.2 C647.4,237.8 647.6,236.2 647.6,235.6 C647.6,235.0 646.6,236.2 647.6,235.6 Z" fill="none" stroke="#000" stroke-linejoin="round" stroke-linecap="round" stroke-width="1.59"/><path d="M651.2,235.6 C651.8,235.5 654.1,234.4 654.8,235.0 C655.5,235.6 655.8,238.4 655.4,239.2 C655.0,240.0 652.9,239.7 652.4,239.8" fill="none" stroke="#000" stroke-linejoin="round" stroke-linecap="round" stroke-width="1.34"/><path d="M505.0,314.0 C507.5,313.0 515.0,310.3 520.0,308.0 C525.0,305.7 530.0,302.2 535.0,300.0 C540.0,297.8 545.0,297.0 550.0,295.0 C555.0,293.0 560.0,290.2 565.0,288.0 C570.0,285.8 577.5,283.0 580.0,282.0" fill="none" stroke="#000" stroke-linejoin="round" stroke-linecap="round" stroke-width="1.46"/><path d="M515.0,322.0 C517.5,320.7 524.2,316.5 530.0,314.0 C535.8,311.5 544.2,309.7 550.0,307.0 C555.8,304.3 560.0,300.8 565.0,298.0 C570.0,295.2 577.5,291.3 580.0,290.0" fill="none" stroke="#000" stroke-linejoin="round" stroke-linecap="round" stroke-width="1.59"/><path d="M508.0,308.0 C508.7,307.5 510.7,305.0 512.0,305.0 C513.3,305.0 515.8,306.8 516.0,308.0 C516.2,309.2 514.3,311.3 513.0,312.0 C511.7,312.7 509.2,312.3 508.0,312.0 C506.8,311.7 506.0,310.7 506.0,310.0 C506.0,309.3 507.7,308.3 508.0,308.0 C508.3,307.7 507.3,308.5 508.0,308.0 Z" fill="none" stroke="#000" stroke-linejoin="round" stroke-linecap="round" stroke-width="1.46"/><path d="M518.0,314.0 C518.7,313.3 520.7,310.3 522.0,310.0 C523.3,309.7 525.2,310.8 526.0,312.0 C526.8,313.2 527.5,315.8 527.0,317.0 C526.5,318.2 524.3,318.8 523.0,319.0 C521.7,319.2 519.8,318.8 519.0,318.0 C518.2,317.2 518.2,314.7 518.0,314.0 C517.8,313.3 517.3,314.7 518.0,314.0 Z" fill="none" stroke="#000" stroke-linejoin="round" stroke-linecap="round" stroke-width="1.46"/><path d="M528.0,305.0 C531.7,303.3 546.0,295.8 550.0,295.0 C554.0,294.2 555.3,297.5 552.0,300.0 C548.7,302.5 534.0,309.2 530.0,310.0 C526.0,310.8 528.3,305.8 528.0,305.0 C527.7,304.2 524.3,306.7 528.0,305.0 Z" fill="none" stroke="#000" stroke-linejoin="round" stroke-linecap="round" stroke-width="1.46"/><path d="M531.0,307.0 L550.0,298.0" fill="none" stroke="#000" stroke-linejoin="round" stroke-linecap="round" stroke-width="1.22"/><path d="M553.0,290.0 C553.8,289.5 556.3,287.2 558.0,287.0 C559.7,286.8 562.2,287.3 563.0,289.0 C563.8,290.7 564.0,295.2 563.0,297.0 C562.0,298.8 558.7,299.8 557.0,300.0 C555.3,300.2 553.7,299.7 553.0,298.0 C552.3,296.3 553.0,291.3 553.0,290.0 C553.0,288.7 552.2,290.5 553.0,290.0 Z" fill="none" stroke="#000" stroke-linejoin="round" stroke-linecap="round" stroke-width="1.46"/><path d="M564.0,287.0 C565.0,286.2 568.2,282.7 570.0,282.0 C571.8,281.3 573.7,282.0 575.0,283.0 C576.3,284.0 577.8,286.0 578.0,288.0 C578.2,290.0 577.3,293.5 576.0,295.0 C574.7,296.5 571.8,297.2 570.0,297.0 C568.2,296.8 566.0,295.7 565.0,294.0 C564.0,292.3 564.2,288.2 564.0,287.0 C563.8,285.8 563.0,287.8 564.0,287.0 Z" fill="none" stroke="#000" stroke-linejoin="round" stroke-linecap="round" stroke-width="1.46"/><path d="M569.0,286.0 L573.0,292.0" fill="none" stroke="#000" stroke-linejoin="round" stroke-linecap="round" stroke-width="1.22"/><path d="M574.0,285.0 L575.0,294.0" fill="none" stroke="#000" stroke-linejoin="round" stroke-linecap="round" stroke-width="1.22"/><path d="M490.0,316.0 C491.0,315.7 494.0,313.8 496.0,314.0 C498.0,314.2 500.3,316.7 502.0,317.0 C503.7,317.3 504.2,315.8 506.0,316.0 C507.8,316.2 511.5,316.7 513.0,318.0 C514.5,319.3 515.5,322.7 515.0,324.0 C514.5,325.3 512.2,325.7 510.0,326.0 C507.8,326.3 504.3,326.0 502.0,326.0 C499.7,326.0 497.7,326.7 496.0,326.0 C494.3,325.3 493.0,323.7 492.0,322.0 C491.0,320.3 490.3,317.0 490.0,316.0 C489.7,315.0 489.0,316.3 490.0,316.0 Z" fill="none" stroke="#000" stroke-linejoin="round" stroke-linecap="round" stroke-width="1.59"/><path d="M495.0,320.0 C495.5,319.7 497.2,317.7 498.0,318.0 C498.8,318.3 500.2,321.0 500.0,322.0 C499.8,323.0 497.8,324.3 497.0,324.0 C496.2,323.7 495.3,320.7 495.0,320.0 C494.7,319.3 494.5,320.3 495.0,320.0 Z" fill="none" stroke="#000" stroke-linejoin="round" stroke-linecap="round" stroke-width="1.34"/><path d="M503.0,320.0 C503.7,319.8 506.0,318.5 507.0,319.0 C508.0,319.5 509.3,322.1 509.0,323.0 C508.7,323.9 506.0,325.0 505.0,324.5 C504.0,324.0 503.3,320.8 503.0,320.0 C502.7,319.2 502.3,320.2 503.0,320.0 Z" fill="none" stroke="#000" stroke-linejoin="round" stroke-linecap="round" stroke-width="1.34"/><path d="M494.0,326.0 C494.7,327.3 497.0,332.0 498.0,334.0 C499.0,336.0 499.5,336.0 500.0,338.0 C500.5,340.0 500.2,344.7 501.0,346.0 C501.8,347.3 502.8,346.5 505.0,346.0 C507.2,345.5 512.3,345.7 514.0,343.0 C515.7,340.3 514.8,332.2 515.0,330.0" fill="none" stroke="#000" stroke-linejoin="round" stroke-linecap="round" stroke-width="1.59"/><path d="M500.0,337.0 L513.0,333.0" fill="none" stroke="#000" stroke-linejoin="round" stroke-linecap="round" stroke-width="1.34"/><path d="M505.0,332.0 L506.0,346.0" fill="none" stroke="#000" stroke-linejoin="round" stroke-linecap="round" stroke-width="1.34"/><path d="M510.0,330.0 L511.0,344.0" fill="none" stroke="#000" stroke-linejoin="round" stroke-linecap="round" stroke-width="1.34"/><path d="M480.0,340.0 C481.7,339.8 487.0,339.2 490.0,339.0 C493.0,338.8 496.7,339.0 498.0,339.0" fill="none" stroke="#000" stroke-linejoin="round" stroke-linecap="round" stroke-width="1.46"/><path d="M480.0,344.0 C481.3,344.3 485.5,346.0 488.0,346.0 C490.5,346.0 493.0,344.0 495.0,344.0 C497.0,344.0 499.2,345.7 500.0,346.0" fill="none" stroke="#000" stroke-linejoin="round" stroke-linecap="round" stroke-width="1.46"/><path d="M480.0,358.0 C481.3,357.3 485.7,355.0 488.0,354.0 C490.3,353.0 492.3,352.7 494.0,352.0 C495.7,351.3 497.3,350.3 498.0,350.0" fill="none" stroke="#000" stroke-linejoin="round" stroke-linecap="round" stroke-width="1.46"/><path d="M486.0,354.0 C486.7,353.3 488.8,350.0 490.0,350.0 C491.2,350.0 493.0,352.8 493.0,354.0 C493.0,355.2 491.2,357.0 490.0,357.0 C488.8,357.0 486.7,354.5 486.0,354.0 C485.3,353.5 485.3,354.7 486.0,354.0 Z" fill="none" stroke="#000" stroke-linejoin="round" stroke-linecap="round" stroke-width="1.34"/><path d="M179.5,309.5 C177.8,311.4 172.6,316.8 169.0,321.0 C165.4,325.2 161.3,329.8 158.0,335.0 C154.7,340.2 151.2,348.2 149.0,352.0 C146.8,355.8 146.5,356.2 145.0,358.0 C143.5,359.8 140.8,362.2 140.0,363.0" fill="none" stroke="#000" stroke-linejoin="round" stroke-linecap="round" stroke-width="1.59"/><path d="M169.0,322.0 C169.8,323.8 172.3,329.5 174.0,333.0 C175.7,336.5 177.8,340.2 179.0,343.0 C180.2,345.8 180.5,347.3 181.0,350.0 C181.5,352.7 182.2,356.3 182.0,359.0 C181.8,361.7 181.0,363.7 180.0,366.0 C179.0,368.3 177.3,371.5 176.0,373.0 C174.7,374.5 172.7,374.7 172.0,375.0" fill="none" stroke="#000" stroke-linejoin="round" stroke-linecap="round" stroke-width="1.59"/><path d="M174.0,316.0 L185.0,330.0" fill="none" stroke="#000" stroke-linejoin="round" stroke-linecap="round" stroke-width="1.59"/><path d="M163.0,366.0 C167.3,359.8 184.4,334.8 189.0,328.5 C193.6,322.2 190.1,327.8 190.5,328.0 C190.9,328.2 195.8,323.3 191.5,330.0 C187.2,336.7 169.8,362.0 165.0,368.0 C160.2,374.0 163.3,366.3 163.0,366.0" fill="none" stroke="#000" stroke-linejoin="round" stroke-linecap="round" stroke-width="1.59"/><path d="M191.5,331.5 C192.4,332.9 195.1,337.2 197.0,340.0 C198.9,342.8 201.7,345.5 203.0,348.0 C204.3,350.5 204.8,353.0 205.0,355.0 C205.2,357.0 205.0,358.0 204.0,360.0 C203.0,362.0 201.3,364.3 199.0,367.0 C196.7,369.7 192.7,373.3 190.0,376.0 C187.3,378.7 184.2,381.8 183.0,383.0" fill="none" stroke="#000" stroke-linejoin="round" stroke-linecap="round" stroke-width="1.59"/><path d="M190.0,336.0 C190.8,337.3 193.5,341.3 195.0,344.0 C196.5,346.7 198.3,349.3 199.0,352.0 C199.7,354.7 199.7,357.7 199.0,360.0 C198.3,362.3 197.0,363.5 195.0,366.0 C193.0,368.5 188.3,373.5 187.0,375.0" fill="none" stroke="#000" stroke-linejoin="round" stroke-linecap="round" stroke-width="1.59"/><path d="M182.0,359.0 C183.3,358.8 186.2,358.5 190.0,358.0 C193.8,357.5 202.5,356.3 205.0,356.0" fill="none" stroke="#000" stroke-linejoin="round" stroke-linecap="round" stroke-width="1.46"/><path d="M213.0,334.0 C212.3,336.3 210.2,344.0 209.0,348.0 C207.8,352.0 205.0,354.5 206.0,358.0 C207.0,361.5 211.8,365.3 215.0,369.0 C218.2,372.7 223.3,378.2 225.0,380.0" fill="none" stroke="#000" stroke-linejoin="round" stroke-linecap="round" stroke-width="1.59"/><path d="M190.0,302.0 C192.5,303.3 199.2,306.5 205.0,310.0 C210.8,313.5 221.7,320.8 225.0,323.0" fill="none" stroke="#000" stroke-linejoin="round" stroke-linecap="round" stroke-width="1.59"/><path d="M182.0,307.5 C185.8,309.6 197.8,315.6 205.0,320.0 C212.2,324.4 221.7,331.7 225.0,334.0" fill="none" stroke="#000" stroke-linejoin="round" stroke-linecap="round" stroke-width="1.59"/><path d="M185.0,310.0 C188.3,312.3 198.3,319.3 205.0,324.0 C211.7,328.7 221.7,335.7 225.0,338.0" fill="none" stroke="#000" stroke-linejoin="round" stroke-linecap="round" stroke-width="1.59"/><path d="M207.0,307.0 C208.3,305.7 212.0,301.5 215.0,299.0 C218.0,296.5 223.3,293.2 225.0,292.0" fill="none" stroke="#000" stroke-linejoin="round" stroke-linecap="round" stroke-width="1.59"/><path d="M210.0,308.5 C211.3,307.2 215.5,303.1 218.0,301.0 C220.5,298.9 223.8,296.8 225.0,296.0" fill="none" stroke="#000" stroke-linejoin="round" stroke-linecap="round" stroke-width="1.59"/><path d="M193.0,296.0 L207.0,303.0" fill="none" stroke="#000" stroke-linejoin="round" stroke-linecap="round" stroke-width="1.59"/><path d="M194.0,294.0 L195.0,291.0" fill="none" stroke="#000" stroke-linejoin="round" stroke-linecap="round" stroke-width="1.46"/><path d="M145.0,358.0 C146.7,359.3 150.8,363.0 155.0,366.0 C159.2,369.0 165.7,372.0 170.0,376.0 C174.3,380.0 179.2,387.7 181.0,390.0" fill="none" stroke="#000" stroke-linejoin="round" stroke-linecap="round" stroke-width="1.59"/><path d="M144.0,366.0 C146.3,367.8 154.2,373.0 158.0,377.0 C161.8,381.0 165.5,387.8 167.0,390.0" fill="none" stroke="#000" stroke-linejoin="round" stroke-linecap="round" stroke-width="1.59"/><path d="M142.0,375.0 C142.5,374.7 144.1,373.0 145.0,373.0 C145.9,373.0 147.6,374.2 147.5,375.0 C147.4,375.8 145.4,377.7 144.5,378.0 C143.6,378.3 142.4,377.5 142.0,377.0 C141.6,376.5 142.0,375.3 142.0,375.0 C142.0,374.7 141.5,375.3 142.0,375.0 Z" fill="none" stroke="#000" stroke-linejoin="round" stroke-linecap="round" stroke-width="1.46"/><path d="M148.0,356.0 C148.2,357.0 148.2,360.5 149.0,362.0 C149.8,363.5 151.5,364.7 153.0,365.0 C154.5,365.3 157.2,364.2 158.0,364.0" fill="none" stroke="#000" stroke-linejoin="round" stroke-linecap="round" stroke-width="1.46"/><path d="M155.0,378.0 C155.2,379.2 155.3,383.0 156.0,385.0 C156.7,387.0 158.5,389.2 159.0,390.0" fill="none" stroke="#000" stroke-linejoin="round" stroke-linecap="round" stroke-width="1.46"/><path d="M215.0,298.8 L242.6,271.2" fill="none" stroke="#000" stroke-linejoin="round" stroke-linecap="round" stroke-width="1.59"/><path d="M215.0,301.8 L243.8,274.2" fill="none" stroke="#000" stroke-linejoin="round" stroke-linecap="round" stroke-width="1.59"/><path d="M215.0,313.2 C218.0,314.4 229.0,319.4 233.0,320.4 C237.0,321.4 236.8,320.6 239.0,319.2 C241.2,317.8 239.8,317.8 246.2,312.0 C252.6,306.2 271.8,289.5 277.4,284.4 C283.0,279.3 279.8,282.2 279.8,281.4 C279.8,280.6 282.2,280.7 277.4,279.6 C272.6,278.5 256.4,275.8 251.0,274.8 C245.6,273.8 246.0,273.8 245.0,273.6" fill="none" stroke="#000" stroke-linejoin="round" stroke-linecap="round" stroke-width="1.71"/><path d="M248.6,277.2 C253.0,278.6 266.6,282.8 275.0,285.6 C283.4,288.4 289.0,290.4 299.0,294.0 C309.0,297.6 329.0,305.0 335.0,307.2" fill="none" stroke="#000" stroke-linejoin="round" stroke-linecap="round" stroke-width="1.59"/><path d="M251.0,272.4 C255.4,273.6 267.4,276.8 277.4,279.6 C287.4,282.4 301.4,286.2 311.0,289.2 C320.6,292.2 331.0,296.2 335.0,297.6" fill="none" stroke="#000" stroke-linejoin="round" stroke-linecap="round" stroke-width="1.59"/><path d="M289.4,270.0 C293.0,272.0 303.4,277.0 311.0,282.0 C318.6,287.0 331.0,297.0 335.0,300.0" fill="none" stroke="#000" stroke-linejoin="round" stroke-linecap="round" stroke-width="1.59"/><path d="M282.2,277.2 C287.0,278.6 302.2,282.8 311.0,285.6 C319.8,288.4 331.0,292.6 335.0,294.0" fill="none" stroke="#000" stroke-linejoin="round" stroke-linecap="round" stroke-width="1.46"/><path d="M215.0,314.4 C219.0,317.4 231.0,326.0 239.0,332.4 C247.0,338.8 259.0,349.4 263.0,352.8" fill="none" stroke="#000" stroke-linejoin="round" stroke-linecap="round" stroke-width="1.59"/><path d="M215.0,327.6 C218.0,329.6 226.4,334.8 233.0,339.6 C239.6,344.4 251.0,353.6 254.6,356.4" fill="none" stroke="#000" stroke-linejoin="round" stroke-linecap="round" stroke-width="1.59"/><path d="M215.0,334.8 L235.4,354.0" fill="none" stroke="#000" stroke-linejoin="round" stroke-linecap="round" stroke-width="1.59"/><path d="M218.6,326.4 L224.6,322.8" fill="none" stroke="#000" stroke-linejoin="round" stroke-linecap="round" stroke-width="1.46"/><path d="M233.0,390.0 C233.1,387.4 232.8,378.0 233.6,374.4 C234.4,370.8 220.9,378.6 237.8,368.4 C254.7,358.2 318.8,322.4 335.0,313.2" fill="none" stroke="#000" stroke-linejoin="round" stroke-linecap="round" stroke-width="1.83"/><path d="M237.2,390.0 C237.3,387.6 237.1,378.6 237.8,375.6 C238.5,372.6 225.2,381.4 241.4,372.0 C257.6,362.6 319.4,328.0 335.0,319.2" fill="none" stroke="#000" stroke-linejoin="round" stroke-linecap="round" stroke-width="1.71"/><path d="M243.8,369.6 L275.0,352.8" fill="none" stroke="#000" stroke-linejoin="round" stroke-linecap="round" stroke-width="1.46"/><path d="M296.6,340.8 C297.8,340.6 302.8,339.4 303.8,339.6 C304.8,339.8 303.6,341.5 302.6,342.0 C301.6,342.5 298.8,342.8 297.8,342.6 C296.8,342.4 296.8,341.1 296.6,340.8 C296.4,340.5 295.4,341.0 296.6,340.8 Z" fill="none" stroke="#000" stroke-linejoin="round" stroke-linecap="round" stroke-width="1.34"/><path d="M319.4,328.8 C321.2,327.8 328.0,323.4 330.2,322.8 C332.4,322.2 334.0,324.0 332.6,325.2 C331.2,326.4 324.0,329.4 321.8,330.0 C319.6,330.6 319.8,329.0 319.4,328.8 C319.0,328.6 317.6,329.8 319.4,328.8 Z" fill="none" stroke="#000" stroke-linejoin="round" stroke-linecap="round" stroke-width="1.34"/><path d="M251.0,366.0 C251.8,365.6 254.8,363.6 255.8,363.6 C256.8,363.6 257.6,365.2 257.0,366.0 C256.4,366.8 253.2,368.4 252.2,368.4 C251.2,368.4 251.2,366.4 251.0,366.0 C250.8,365.6 250.2,366.4 251.0,366.0 Z" fill="none" stroke="#000" stroke-linejoin="round" stroke-linecap="round" stroke-width="1.34"/><path d="M277.4,372.0 C279.8,371.0 288.2,366.6 291.8,366.0 C295.4,365.4 297.2,366.4 299.0,368.4 C300.8,370.4 302.4,375.4 302.6,378.0 C302.8,380.6 302.4,382.6 300.2,384.0 C298.0,385.4 292.4,386.2 289.4,386.4 C286.4,386.6 284.2,386.6 282.2,385.2 C280.2,383.8 278.2,380.2 277.4,378.0 C276.6,375.8 277.4,373.0 277.4,372.0 C277.4,371.0 275.0,373.0 277.4,372.0 Z" fill="none" stroke="#000" stroke-linejoin="round" stroke-linecap="round" stroke-width="1.59"/><path d="M270.8,379.2 C271.5,378.9 273.9,377.1 275.0,377.4 C276.1,377.7 277.6,380.0 277.4,381.0 C277.2,382.0 274.9,383.3 273.8,383.4 C272.7,383.5 271.3,382.3 270.8,381.6 C270.3,380.9 270.8,379.6 270.8,379.2 C270.8,378.8 270.1,379.5 270.8,379.2 Z" fill="none" stroke="#000" stroke-linejoin="round" stroke-linecap="round" stroke-width="1.46"/><path d="M299.0,358.8 L311.0,390.0" fill="none" stroke="#000" stroke-linejoin="round" stroke-linecap="round" stroke-width="1.59"/><path d="M301.4,354.0 C302.2,354.4 304.6,354.8 306.2,356.4 C307.8,358.0 310.4,361.4 311.0,363.6 C311.6,365.8 310.0,368.6 309.8,369.6" fill="none" stroke="#000" stroke-linejoin="round" stroke-linecap="round" stroke-width="1.59"/><path d="M306.2,351.6 C307.4,352.0 311.4,352.2 313.4,354.0 C315.4,355.8 317.6,359.8 318.2,362.4 C318.8,365.0 317.2,368.4 317.0,369.6" fill="none" stroke="#000" stroke-linejoin="round" stroke-linecap="round" stroke-width="1.59"/><path d="M315.8,346.8 C317.8,347.0 324.8,346.4 327.8,348.0 C330.8,349.6 333.0,353.4 333.8,356.4 C334.6,359.4 333.6,363.4 332.6,366.0 C331.6,368.6 328.6,371.0 327.8,372.0" fill="none" stroke="#000" stroke-linejoin="round" stroke-linecap="round" stroke-width="1.59"/><path d="M317.0,348.0 C318.4,347.0 322.4,343.0 325.4,342.0 C328.4,341.0 333.4,342.0 335.0,342.0" fill="none" stroke="#000" stroke-linejoin="round" stroke-linecap="round" stroke-width="1.59"/><path d="M260.6,380.4 L265.4,390.0" fill="none" stroke="#000" stroke-linejoin="round" stroke-linecap="round" stroke-width="1.46"/><path d="M146.0,360.0 C151.0,363.2 168.4,374.4 176.0,379.2 C183.6,384.0 187.8,386.0 191.6,388.8 C195.4,391.6 193.4,390.8 198.8,396.0 C204.2,401.2 216.8,413.6 224.0,420.0 C231.2,426.4 237.2,430.4 242.0,434.4 C246.8,438.4 250.4,440.4 252.8,444.0 C255.2,447.6 256.0,452.0 256.4,456.0 C256.8,460.0 255.4,466.0 255.2,468.0" fill="none" stroke="#000" stroke-linejoin="round" stroke-linecap="round" stroke-width="1.59"/><path d="M140.0,367.2 C145.6,370.2 165.2,380.6 173.6,385.2 C182.0,389.8 186.4,392.2 190.4,394.8 C194.4,397.4 192.0,395.8 197.6,400.8 C203.2,405.8 216.6,418.4 224.0,424.8 C231.4,431.2 237.6,435.6 242.0,439.2 C246.4,442.8 248.6,443.2 250.4,446.4 C252.2,449.6 252.4,456.4 252.8,458.4" fill="none" stroke="#000" stroke-linejoin="round" stroke-linecap="round" stroke-width="1.59"/><path d="M140.0,376.8 C145.0,379.0 163.4,386.4 170.0,390.0 C176.6,393.6 176.2,395.8 179.6,398.4 C183.0,401.0 187.4,403.6 190.4,405.6 C193.4,407.6 192.0,406.4 197.6,410.4 C203.2,414.4 217.0,424.4 224.0,429.6 C231.0,434.8 237.0,439.6 239.6,441.6" fill="none" stroke="#000" stroke-linejoin="round" stroke-linecap="round" stroke-width="1.59"/><path d="M143.6,374.4 C144.2,374.2 146.4,372.8 147.2,373.2 C148.0,373.6 148.8,375.8 148.4,376.8 C148.0,377.8 145.8,379.0 144.8,379.2 C143.8,379.4 142.6,378.8 142.4,378.0 C142.2,377.2 143.4,375.0 143.6,374.4 C143.8,373.8 143.0,374.6 143.6,374.4 Z" fill="none" stroke="#000" stroke-linejoin="round" stroke-linecap="round" stroke-width="1.46"/><path d="M154.4,379.2 C157.0,380.6 167.6,385.6 170.0,387.6 C172.4,389.6 171.6,392.0 168.8,391.2 C166.0,390.4 155.6,384.8 153.2,382.8 C150.8,380.8 154.2,379.8 154.4,379.2 C154.6,378.6 151.8,377.8 154.4,379.2 Z" fill="none" stroke="#000" stroke-linejoin="round" stroke-linecap="round" stroke-width="1.46"/><path d="M206.0,360.0 C210.2,364.0 222.2,375.6 231.2,384.0 C240.2,392.4 255.2,406.0 260.0,410.4" fill="none" stroke="#000" stroke-linejoin="round" stroke-linecap="round" stroke-width="1.59"/><path d="M185.6,381.6 L202.4,360.0" fill="none" stroke="#000" stroke-linejoin="round" stroke-linecap="round" stroke-width="1.59"/><path d="M183.2,379.2 L197.6,360.0" fill="none" stroke="#000" stroke-linejoin="round" stroke-linecap="round" stroke-width="1.59"/><path d="M239.6,367.2 C238.8,368.0 235.8,370.0 234.8,372.0 C233.8,374.0 233.0,376.0 233.6,379.2 C234.2,382.4 236.0,387.4 238.4,391.2 C240.8,395.0 244.4,398.6 248.0,402.0 C251.6,405.4 258.0,410.0 260.0,411.6" fill="none" stroke="#000" stroke-linejoin="round" stroke-linecap="round" stroke-width="1.71"/><path d="M244.4,370.8 C243.6,371.6 240.4,373.4 239.6,375.6 C238.8,377.8 238.6,381.0 239.6,384.0 C240.6,387.0 242.2,390.0 245.6,393.6 C249.0,397.2 257.6,403.6 260.0,405.6" fill="none" stroke="#000" stroke-linejoin="round" stroke-linecap="round" stroke-width="1.59"/><path d="M228.8,416.4 L260.0,403.2" fill="none" stroke="#000" stroke-linejoin="round" stroke-linecap="round" stroke-width="1.59"/><path d="M231.2,422.4 L260.0,410.4" fill="none" stroke="#000" stroke-linejoin="round" stroke-linecap="round" stroke-width="1.59"/><path d="M248.0,432.0 L260.0,427.2" fill="none" stroke="#000" stroke-linejoin="round" stroke-linecap="round" stroke-width="1.46"/><path d="M248.0,436.8 L260.0,432.0" fill="none" stroke="#000" stroke-linejoin="round" stroke-linecap="round" stroke-width="1.46"/><path d="M222.8,364.8 C223.4,364.2 224.2,362.0 226.4,361.2 C228.6,360.4 234.4,360.2 236.0,360.0" fill="none" stroke="#000" stroke-linejoin="round" stroke-linecap="round" stroke-width="1.46"/><path d="M224.0,367.2 C225.2,368.0 228.2,370.8 231.2,372.0 C234.2,373.2 240.2,374.0 242.0,374.4" fill="none" stroke="#000" stroke-linejoin="round" stroke-linecap="round" stroke-width="1.46"/><path d="M168.8,434.4 C171.0,433.6 178.0,430.0 182.0,429.6 C186.0,429.2 188.6,430.6 192.8,432.0 C197.0,433.4 203.2,435.6 207.2,438.0 C211.2,440.4 214.8,441.4 216.8,446.4 C218.8,451.4 219.2,462.4 219.2,468.0 C219.2,473.6 217.2,478.0 216.8,480.0" fill="none" stroke="#000" stroke-linejoin="round" stroke-linecap="round" stroke-width="1.59"/><path d="M182.0,429.6 L183.2,408.0" fill="none" stroke="#000" stroke-linejoin="round" stroke-linecap="round" stroke-width="1.59"/><path d="M171.2,448.8 C172.4,450.0 175.6,454.4 178.4,456.0 C181.2,457.6 184.4,457.6 188.0,458.4 C191.6,459.2 196.8,459.2 200.0,460.8 C203.2,462.4 205.2,465.6 207.2,468.0 C209.2,470.4 211.2,474.0 212.0,475.2" fill="none" stroke="#000" stroke-linejoin="round" stroke-linecap="round" stroke-width="1.46"/><path d="M174.8,453.6 C175.6,455.2 177.4,460.8 179.6,463.2 C181.8,465.6 185.6,466.6 188.0,468.0 C190.4,469.4 193.0,471.0 194.0,471.6" fill="none" stroke="#000" stroke-linejoin="round" stroke-linecap="round" stroke-width="1.46"/><path d="M186.8,458.4 C187.4,458.0 188.2,456.0 190.4,456.0 C192.6,456.0 198.4,458.0 200.0,458.4" fill="none" stroke="#000" stroke-linejoin="round" stroke-linecap="round" stroke-width="1.46"/><path d="M191.6,436.8 C194.2,438.0 203.0,442.4 207.2,444.0 C211.4,445.6 215.2,446.0 216.8,446.4" fill="none" stroke="#000" stroke-linejoin="round" stroke-linecap="round" stroke-width="1.46"/><path d="M218.0,456.0 C220.2,455.2 227.0,452.8 231.2,451.2 C235.4,449.6 239.6,447.6 243.2,446.4 C246.8,445.2 251.2,444.4 252.8,444.0" fill="none" stroke="#000" stroke-linejoin="round" stroke-linecap="round" stroke-width="1.46"/><path d="M219.2,462.0 C222.0,461.0 231.2,457.4 236.0,456.0 C240.8,454.6 244.0,454.4 248.0,453.6 C252.0,452.8 258.0,451.6 260.0,451.2" fill="none" stroke="#000" stroke-linejoin="round" stroke-linecap="round" stroke-width="1.46"/><path d="M224.0,465.6 C225.2,465.2 229.6,462.0 231.2,463.2 C232.8,464.4 234.4,470.8 233.6,472.8 C232.8,474.8 228.0,476.4 226.4,475.2 C224.8,474.0 224.4,467.2 224.0,465.6 C223.6,464.0 222.8,466.0 224.0,465.6 Z" fill="none" stroke="#000" stroke-linejoin="round" stroke-linecap="round" stroke-width="1.46"/><path d="M236.0,463.2 C237.6,462.8 243.6,460.0 245.6,460.8 C247.6,461.6 249.0,466.2 248.0,468.0 C247.0,469.8 241.6,472.4 239.6,471.6 C237.6,470.8 236.6,464.6 236.0,463.2 C235.4,461.8 234.4,463.6 236.0,463.2 Z" fill="none" stroke="#000" stroke-linejoin="round" stroke-linecap="round" stroke-width="1.46"/><ellipse cx="168.8" cy="394.8" rx="2.6" ry="2.2" fill="none" stroke="#000" stroke-width="1.1"/><ellipse cx="179.6" cy="391.2" rx="2.3" ry="1.9" fill="none" stroke="#000" stroke-width="1.1"/><ellipse cx="184.4" cy="393.6" rx="2.0" ry="1.7" fill="none" stroke="#000" stroke-width="1.1"/><ellipse cx="190.4" cy="399.6" rx="2.9" ry="2.4" fill="none" stroke="#000" stroke-width="1.1"/><ellipse cx="179.6" cy="400.8" rx="2.6" ry="2.2" fill="none" stroke="#000" stroke-width="1.1"/><ellipse cx="195.2" cy="411.6" rx="2.3" ry="1.9" fill="none" stroke="#000" stroke-width="1.1"/><ellipse cx="185.6" cy="410.4" rx="3.2" ry="2.6" fill="none" stroke="#000" stroke-width="1.1"/><ellipse cx="202.4" cy="417.6" rx="3.5" ry="2.9" fill="none" stroke="#000" stroke-width="1.1"/><ellipse cx="196.4" cy="422.4" rx="2.6" ry="2.2" fill="none" stroke="#000" stroke-width="1.1"/><ellipse cx="207.2" cy="424.8" rx="2.9" ry="2.4" fill="none" stroke="#000" stroke-width="1.1"/><ellipse cx="188.0" cy="416.4" rx="2.0" ry="1.7" fill="none" stroke="#000" stroke-width="1.1"/><ellipse cx="226.4" cy="436.8" rx="2.6" ry="2.2" fill="none" stroke="#000" stroke-width="1.1"/><ellipse cx="233.6" cy="439.2" rx="2.3" ry="1.9" fill="none" stroke="#000" stroke-width="1.1"/><ellipse cx="242.0" cy="444.0" rx="2.6" ry="2.2" fill="none" stroke="#000" stroke-width="1.1"/><ellipse cx="176.0" cy="396.0" rx="1.7" ry="1.4" fill="none" stroke="#000" stroke-width="1.1"/><ellipse cx="192.8" cy="405.6" rx="1.7" ry="1.4" fill="none" stroke="#000" stroke-width="1.1"/><path d="M171.2,400.8 C172.0,400.4 172.8,398.6 176.0,398.4 C179.2,398.2 187.0,398.4 190.4,399.6 C193.8,400.8 195.2,403.0 196.4,405.6 C197.6,408.2 196.2,412.4 197.6,415.2 C199.0,418.0 202.8,420.4 204.8,422.4 C206.8,424.4 208.8,425.6 209.6,427.2 C210.4,428.8 211.8,431.2 209.6,432.0 C207.4,432.8 200.0,432.4 196.4,432.0 C192.8,431.6 190.2,430.4 188.0,429.6 C185.8,428.8 184.0,427.6 183.2,427.2" fill="none" stroke="#000" stroke-linejoin="round" stroke-linecap="round" stroke-width="1.46"/><path d="M179.6,408.0 C181.0,408.0 185.4,406.8 188.0,408.0 C190.6,409.2 193.8,412.4 195.2,415.2 C196.6,418.0 197.6,422.8 196.4,424.8 C195.2,426.8 189.4,426.8 188.0,427.2" fill="none" stroke="#000" stroke-linejoin="round" stroke-linecap="round" stroke-width="1.34"/><path d="M250.0,384.0 C254.0,381.6 265.6,374.0 274.0,369.6 C282.4,365.2 293.2,361.2 300.4,357.6 C307.6,354.0 312.6,349.4 317.2,348.0 C321.8,346.6 324.8,349.4 328.0,349.2 C331.2,349.0 335.0,347.2 336.4,346.8" fill="none" stroke="#000" stroke-linejoin="round" stroke-linecap="round" stroke-width="1.71"/><path d="M300.4,357.6 C302.4,360.8 308.8,371.4 312.4,376.8 C316.0,382.2 318.4,385.8 322.0,390.0 C325.6,394.2 328.4,399.2 334.0,402.0 C339.6,404.8 349.6,405.8 355.6,406.8 C361.6,407.8 367.6,407.8 370.0,408.0" fill="none" stroke="#000" stroke-linejoin="round" stroke-linecap="round" stroke-width="1.71"/><path d="M301.6,357.6 C302.6,358.2 306.0,359.8 307.6,361.2 C309.2,362.6 310.8,364.6 311.2,366.0 C311.6,367.4 310.2,369.0 310.0,369.6" fill="none" stroke="#000" stroke-linejoin="round" stroke-linecap="round" stroke-width="1.46"/><path d="M307.6,352.8 C308.8,353.6 312.8,355.6 314.8,357.6 C316.8,359.6 319.0,362.6 319.6,364.8 C320.2,367.0 319.2,369.2 318.4,370.8 C317.6,372.4 315.4,373.8 314.8,374.4" fill="none" stroke="#000" stroke-linejoin="round" stroke-linecap="round" stroke-width="1.46"/><path d="M316.0,348.0 C317.4,349.0 322.0,351.4 324.4,354.0 C326.8,356.6 329.8,360.4 330.4,363.6 C331.0,366.8 329.4,370.8 328.0,373.2 C326.6,375.6 323.8,377.0 322.0,378.0 C320.2,379.0 318.0,379.0 317.2,379.2" fill="none" stroke="#000" stroke-linejoin="round" stroke-linecap="round" stroke-width="1.59"/><path d="M328.0,349.2 C329.4,349.0 334.6,346.8 336.4,348.0 C338.2,349.2 339.2,353.4 338.8,356.4 C338.4,359.4 336.4,362.8 334.0,366.0 C331.6,369.2 326.0,374.0 324.4,375.6" fill="none" stroke="#000" stroke-linejoin="round" stroke-linecap="round" stroke-width="1.59"/><path d="M277.6,373.2 C279.0,372.4 283.0,369.6 286.0,368.4 C289.0,367.2 293.0,365.6 295.6,366.0 C298.2,366.4 300.4,368.2 301.6,370.8 C302.8,373.4 303.4,378.8 302.8,381.6 C302.2,384.4 300.4,386.4 298.0,387.6 C295.6,388.8 291.4,389.4 288.4,388.8 C285.4,388.2 281.8,385.8 280.0,384.0 C278.2,382.2 278.0,379.8 277.6,378.0 C277.2,376.2 277.6,374.0 277.6,373.2 C277.6,372.4 276.2,374.0 277.6,373.2 Z" fill="none" stroke="#000" stroke-linejoin="round" stroke-linecap="round" stroke-width="1.59"/><path d="M271.6,379.2 C272.2,378.9 274.2,377.2 275.2,377.4 C276.2,377.6 277.6,379.5 277.6,380.4 C277.6,381.3 276.1,382.5 275.2,382.8 C274.3,383.1 272.8,382.8 272.2,382.2 C271.6,381.6 271.7,379.7 271.6,379.2 C271.5,378.7 271.0,379.5 271.6,379.2 Z" fill="none" stroke="#000" stroke-linejoin="round" stroke-linecap="round" stroke-width="1.46"/><path d="M252.4,386.4 C254.4,385.6 261.2,382.2 264.4,381.6 C267.6,381.0 269.8,381.0 271.6,382.8 C273.4,384.6 274.6,389.2 275.2,392.4 C275.8,395.6 277.4,399.6 275.2,402.0 C273.0,404.4 265.4,406.8 262.0,406.8 C258.6,406.8 256.4,405.4 254.8,402.0 C253.2,398.6 252.8,389.0 252.4,386.4 C252.0,383.8 250.4,387.2 252.4,386.4 Z" fill="none" stroke="#000" stroke-linejoin="round" stroke-linecap="round" stroke-width="1.59"/><path d="M259.6,406.8 C262.0,406.0 270.2,401.0 274.0,402.0 C277.8,403.0 282.8,409.2 282.4,412.8 C282.0,416.4 273.4,421.8 271.6,423.6" fill="none" stroke="#000" stroke-linejoin="round" stroke-linecap="round" stroke-width="1.59"/><path d="M293.2,390.0 C293.8,390.2 296.8,390.6 296.8,391.2 C296.8,391.8 294.0,391.8 293.2,393.6 C292.4,395.4 292.2,400.6 292.0,402.0" fill="none" stroke="#000" stroke-linejoin="round" stroke-linecap="round" stroke-width="1.46"/><path d="M274.0,426.0 L294.4,426.0" fill="none" stroke="#000" stroke-linejoin="round" stroke-linecap="round" stroke-width="1.59"/><path d="M250.0,398.4 C253.2,402.8 265.2,419.0 269.2,424.8 C273.2,430.6 273.0,429.0 274.0,433.2 C275.0,437.4 275.0,447.2 275.2,450.0" fill="none" stroke="#000" stroke-linejoin="round" stroke-linecap="round" stroke-width="1.71"/><path d="M250.0,406.8 C252.6,410.2 262.4,422.4 265.6,427.2 C268.8,432.0 268.4,431.8 269.2,435.6 C270.0,439.4 270.2,447.6 270.4,450.0" fill="none" stroke="#000" stroke-linejoin="round" stroke-linecap="round" stroke-width="1.59"/><path d="M336.4,345.6 C339.0,344.8 347.4,342.6 352.0,340.8 C356.6,339.0 362.0,335.8 364.0,334.8" fill="none" stroke="#000" stroke-linejoin="round" stroke-linecap="round" stroke-width="1.59"/><path d="M336.4,348.0 C339.0,349.0 346.4,351.6 352.0,354.0 C357.6,356.4 367.0,361.0 370.0,362.4" fill="none" stroke="#000" stroke-linejoin="round" stroke-linecap="round" stroke-width="1.59"/><path d="M326.8,392.4 C328.0,391.4 331.6,387.8 334.0,386.4 C336.4,385.0 337.6,383.4 341.2,384.0 C344.8,384.6 352.4,390.6 355.6,390.0 C358.8,389.4 358.0,382.4 360.4,380.4 C362.8,378.4 368.4,378.4 370.0,378.0" fill="none" stroke="#000" stroke-linejoin="round" stroke-linecap="round" stroke-width="1.46"/><path d="M326.8,393.6 C328.0,394.6 330.8,397.8 334.0,399.6 C337.2,401.4 342.0,403.8 346.0,404.4 C350.0,405.0 354.0,404.4 358.0,403.2 C362.0,402.0 368.0,398.2 370.0,397.2" fill="none" stroke="#000" stroke-linejoin="round" stroke-linecap="round" stroke-width="1.46"/><path d="M331.6,390.0 C333.2,389.6 339.4,386.8 341.2,387.6 C343.0,388.4 343.6,393.4 342.4,394.8 C341.2,396.2 335.4,395.8 334.0,396.0" fill="none" stroke="#000" stroke-linejoin="round" stroke-linecap="round" stroke-width="1.34"/><path d="M355.6,387.6 C356.6,386.0 359.6,379.2 361.6,378.0 C363.6,376.8 367.0,378.0 367.6,380.4 C368.2,382.8 365.6,390.4 365.2,392.4" fill="none" stroke="#000" stroke-linejoin="round" stroke-linecap="round" stroke-width="1.34"/><path d="M358.0,406.8 L370.0,402.0" fill="none" stroke="#000" stroke-linejoin="round" stroke-linecap="round" stroke-width="1.46"/><path d="M352.0,428.4 C353.4,427.2 357.4,422.8 360.4,421.2 C363.4,419.6 368.4,419.2 370.0,418.8" fill="none" stroke="#000" stroke-linejoin="round" stroke-linecap="round" stroke-width="1.46"/><path d="M352.0,428.4 C352.2,430.0 351.2,436.4 353.2,438.0 C355.2,439.6 361.2,438.4 364.0,438.0 C366.8,437.6 369.0,436.0 370.0,435.6" fill="none" stroke="#000" stroke-linejoin="round" stroke-linecap="round" stroke-width="1.46"/><path d="M358.0,426.0 C359.2,425.6 363.6,422.6 365.2,423.6 C366.8,424.6 368.4,430.2 367.6,432.0 C366.8,433.8 362.0,435.4 360.4,434.4 C358.8,433.4 358.4,427.4 358.0,426.0 C357.6,424.6 356.8,426.4 358.0,426.0 Z" fill="none" stroke="#000" stroke-linejoin="round" stroke-linecap="round" stroke-width="1.34"/><path d="M334.0,450.0 C336.0,448.8 342.0,444.8 346.0,442.8 C350.0,440.8 356.0,438.8 358.0,438.0" fill="none" stroke="#000" stroke-linejoin="round" stroke-linecap="round" stroke-width="1.46"/><path d="M250.0,435.6 C252.0,435.2 258.0,434.0 262.0,433.2 C266.0,432.4 272.0,431.2 274.0,430.8" fill="none" stroke="#000" stroke-linejoin="round" stroke-linecap="round" stroke-width="1.46"/><path d="M295.6,339.6 C296.8,339.4 301.4,338.1 302.8,338.4 C304.2,338.7 305.0,340.8 304.0,341.4 C303.0,342.0 298.0,341.9 296.8,342.0" fill="none" stroke="#000" stroke-linejoin="round" stroke-linecap="round" stroke-width="1.34"/><path d="M340.0,293.6 C344.0,294.2 355.0,295.2 364.0,297.2 C373.0,299.2 387.6,303.6 394.0,305.6 C400.4,307.6 401.0,308.6 402.4,309.2" fill="none" stroke="#000" stroke-linejoin="round" stroke-linecap="round" stroke-width="1.59"/><path d="M349.6,305.6 C353.0,306.0 362.8,306.4 370.0,308.0 C377.2,309.6 386.6,311.6 392.8,315.2 C399.0,318.8 404.0,325.4 407.2,329.6 C410.4,333.8 411.2,338.6 412.0,340.4" fill="none" stroke="#000" stroke-linejoin="round" stroke-linecap="round" stroke-width="1.59"/><path d="M347.2,309.2 C350.4,310.0 359.6,312.0 366.4,314.0 C373.2,316.0 382.4,317.6 388.0,321.2 C393.6,324.8 396.8,331.8 400.0,335.6 C403.2,339.4 406.0,342.6 407.2,344.0" fill="none" stroke="#000" stroke-linejoin="round" stroke-linecap="round" stroke-width="1.59"/><path d="M361.6,299.6 C362.6,302.0 365.6,309.0 367.6,314.0 C369.6,319.0 371.6,324.4 373.6,329.6 C375.6,334.8 378.6,342.6 379.6,345.2" fill="none" stroke="#000" stroke-linejoin="round" stroke-linecap="round" stroke-width="1.59"/><path d="M367.6,316.4 C369.0,318.6 373.0,324.6 376.0,329.6 C379.0,334.6 384.0,343.6 385.6,346.4" fill="none" stroke="#000" stroke-linejoin="round" stroke-linecap="round" stroke-width="1.59"/><path d="M343.6,317.6 C345.4,317.2 351.2,315.0 354.4,315.2 C357.6,315.4 361.2,317.0 362.8,318.8 C364.4,320.6 364.8,324.0 364.0,326.0 C363.2,328.0 359.6,330.6 358.0,330.8 C356.4,331.0 356.2,328.4 354.4,327.2 C352.6,326.0 349.0,324.8 347.2,323.6 C345.4,322.4 344.2,320.6 343.6,320.0" fill="none" stroke="#000" stroke-linejoin="round" stroke-linecap="round" stroke-width="1.59"/><path d="M355.6,328.4 C355.8,329.2 356.0,332.2 356.8,333.2 C357.6,334.2 359.8,334.2 360.4,334.4" fill="none" stroke="#000" stroke-linejoin="round" stroke-linecap="round" stroke-width="1.46"/><path d="M340.0,341.6 C343.0,341.0 352.4,339.4 358.0,338.0 C363.6,336.6 371.0,334.0 373.6,333.2" fill="none" stroke="#000" stroke-linejoin="round" stroke-linecap="round" stroke-width="1.59"/><path d="M340.0,348.8 C342.4,349.2 349.8,350.2 354.4,351.2 C359.0,352.2 365.4,354.2 367.6,354.8" fill="none" stroke="#000" stroke-linejoin="round" stroke-linecap="round" stroke-width="1.59"/><path d="M383.2,346.4 C384.6,346.8 388.4,347.8 391.6,348.8 C394.8,349.8 399.8,352.0 402.4,352.4 C405.0,352.8 406.4,351.4 407.2,351.2" fill="none" stroke="#000" stroke-linejoin="round" stroke-linecap="round" stroke-width="1.46"/><path d="M385.6,350.0 L400.0,354.8" fill="none" stroke="#000" stroke-linejoin="round" stroke-linecap="round" stroke-width="1.46"/><path d="M412.0,362.0 C414.0,361.6 421.6,358.8 424.0,359.6 C426.4,360.4 424.8,364.8 426.4,366.8 C428.0,368.8 431.6,368.4 433.6,371.6 C435.6,374.8 438.8,382.8 438.4,386.0 C438.0,389.2 433.6,391.6 431.2,390.8 C428.8,390.0 426.4,385.0 424.0,381.2 C421.6,377.4 418.8,370.8 416.8,368.0 C414.8,365.2 412.8,365.4 412.0,364.4 C411.2,363.4 412.0,362.4 412.0,362.0 C412.0,361.6 410.0,362.4 412.0,362.0 Z" fill="none" stroke="#000" stroke-linejoin="round" stroke-linecap="round" stroke-width="1.59"/><ellipse cx="420.4" cy="362" rx="1.8" ry="2.4" fill="none" stroke="#000" stroke-width="1.2"/><path d="M424.0,398.0 L460.0,374.0" fill="none" stroke="#000" stroke-linejoin="round" stroke-linecap="round" stroke-width="1.59"/><path d="M428.8,401.6 L460.0,381.2" fill="none" stroke="#000" stroke-linejoin="round" stroke-linecap="round" stroke-width="1.46"/><path d="M378.4,345.2 C378.6,348.0 380.0,357.6 379.6,362.0 C379.2,366.4 377.0,368.4 376.0,371.6 C375.0,374.8 374.0,379.6 373.6,381.2" fill="none" stroke="#000" stroke-linejoin="round" stroke-linecap="round" stroke-width="1.46"/><path d="M382.0,347.6 C382.6,350.0 384.6,357.6 385.6,362.0 C386.6,366.4 387.2,370.4 388.0,374.0 C388.8,377.6 390.0,382.0 390.4,383.6" fill="none" stroke="#000" stroke-linejoin="round" stroke-linecap="round" stroke-width="1.46"/><path d="M385.6,364.4 C386.4,364.8 389.4,365.2 390.4,366.8 C391.4,368.4 392.0,372.4 391.6,374.0 C391.2,375.6 389.0,378.0 388.0,376.4 C387.0,374.8 386.0,366.4 385.6,364.4 C385.2,362.4 384.8,364.0 385.6,364.4 Z" fill="none" stroke="#000" stroke-linejoin="round" stroke-linecap="round" stroke-width="1.34"/><path d="M370.0,386.0 C371.4,385.6 375.0,383.6 378.4,383.6 C381.8,383.6 387.2,384.4 390.4,386.0 C393.6,387.6 396.8,390.8 397.6,393.2 C398.4,395.6 395.6,399.2 395.2,400.4" fill="none" stroke="#000" stroke-linejoin="round" stroke-linecap="round" stroke-width="1.46"/><path d="M358.0,381.2 C359.0,380.8 362.6,378.0 364.0,378.8 C365.4,379.6 366.8,384.2 366.4,386.0 C366.0,387.8 362.4,389.0 361.6,389.6" fill="none" stroke="#000" stroke-linejoin="round" stroke-linecap="round" stroke-width="1.46"/><path d="M352.0,398.0 C354.0,397.6 360.0,395.6 364.0,395.6 C368.0,395.6 372.0,396.8 376.0,398.0 C380.0,399.2 386.0,402.0 388.0,402.8" fill="none" stroke="#000" stroke-linejoin="round" stroke-linecap="round" stroke-width="1.46"/><path d="M407.2,383.6 C408.8,383.2 414.2,381.0 416.8,381.2 C419.4,381.4 422.8,383.4 422.8,384.8 C422.8,386.2 419.0,389.0 416.8,389.6 C414.6,390.2 410.8,388.6 409.6,388.4" fill="none" stroke="#000" stroke-linejoin="round" stroke-linecap="round" stroke-width="1.46"/><path d="M402.4,392.0 C403.2,393.0 405.6,397.4 407.2,398.0 C408.8,398.6 410.4,395.2 412.0,395.6 C413.6,396.0 416.0,399.6 416.8,400.4" fill="none" stroke="#000" stroke-linejoin="round" stroke-linecap="round" stroke-width="1.46"/><path d="M443.2,383.6 C444.0,384.0 446.8,384.8 448.0,386.0 C449.2,387.2 450.8,389.6 450.4,390.8 C450.0,392.0 446.4,392.8 445.6,393.2" fill="none" stroke="#000" stroke-linejoin="round" stroke-linecap="round" stroke-width="1.46"/><path d="M452.8,369.2 C453.6,369.0 456.4,367.2 457.6,368.0 C458.8,368.8 459.6,373.0 460.0,374.0" fill="none" stroke="#000" stroke-linejoin="round" stroke-linecap="round" stroke-width="1.46"/><path d="M460.0,342.8 C457.0,344.4 448.0,349.6 442.0,352.4 C436.0,355.2 427.0,358.4 424.0,359.6" fill="none" stroke="#000" stroke-linejoin="round" stroke-linecap="round" stroke-width="1.46"/><path d="M460.0,348.8 C457.0,350.4 447.2,355.8 442.0,358.4 C436.8,361.0 431.0,363.4 428.8,364.4" fill="none" stroke="#000" stroke-linejoin="round" stroke-linecap="round" stroke-width="1.46"/><path d="M340.0,448.0 L364.0,440.8" fill="none" stroke="#000" stroke-linejoin="round" stroke-linecap="round" stroke-width="1.71"/><path d="M340.0,456.8 L364.8,446.4" fill="none" stroke="#000" stroke-linejoin="round" stroke-linecap="round" stroke-width="1.71"/><path d="M364.0,421.6 C362.4,422.4 356.5,425.2 354.4,426.4 C352.3,427.6 351.7,426.7 351.2,428.8 C350.7,430.9 350.4,437.3 351.2,439.2 C352.0,441.1 355.2,439.9 356.0,440.0" fill="none" stroke="#000" stroke-linejoin="round" stroke-linecap="round" stroke-width="1.71"/><path d="M366.4,424.8 C364.8,425.6 358.7,427.7 356.8,429.6 C354.9,431.5 355.3,434.1 355.2,436.0 C355.1,437.9 355.9,440.0 356.0,440.8" fill="none" stroke="#000" stroke-linejoin="round" stroke-linecap="round" stroke-width="1.59"/><path d="M360.0,424.8 C360.1,426.1 360.5,430.1 360.8,432.8 C361.1,435.5 361.5,439.5 361.6,440.8" fill="none" stroke="#000" stroke-linejoin="round" stroke-linecap="round" stroke-width="1.46"/><path d="M356.0,432.8 C357.7,432.5 363.7,431.7 366.4,431.2 C369.1,430.7 371.1,429.9 372.0,429.6" fill="none" stroke="#000" stroke-linejoin="round" stroke-linecap="round" stroke-width="1.46"/><path d="M366.4,421.6 C366.7,422.7 367.9,425.6 368.0,428.0 C368.1,430.4 367.9,433.6 367.2,436.0 C366.5,438.4 364.5,441.3 364.0,442.4" fill="none" stroke="#000" stroke-linejoin="round" stroke-linecap="round" stroke-width="1.46"/><path d="M369.6,394.4 C370.7,393.1 373.5,388.1 376.0,386.4 C378.5,384.7 381.7,384.0 384.8,384.0 C387.9,384.0 392.0,384.9 394.4,386.4 C396.8,387.9 398.9,390.9 399.2,392.8 C399.5,394.7 396.5,396.8 396.0,397.6" fill="none" stroke="#000" stroke-linejoin="round" stroke-linecap="round" stroke-width="1.71"/><path d="M388.0,397.6 C388.3,399.7 386.3,410.0 389.6,410.4 C392.9,410.8 404.5,402.9 408.0,400.0 C411.5,397.1 411.1,394.0 410.4,392.8 C409.7,391.6 404.7,392.3 404.0,392.8 C403.3,393.3 408.0,394.3 406.4,396.0 C404.8,397.7 396.7,402.8 394.4,403.2 C392.1,403.6 393.1,399.2 392.8,398.4" fill="none" stroke="#000" stroke-linejoin="round" stroke-linecap="round" stroke-width="1.71"/><path d="M356.8,407.2 C359.7,406.0 371.2,400.7 374.4,400.0 C377.6,399.3 378.7,401.3 376.0,403.2 C373.3,405.1 361.6,410.5 358.4,411.2 C355.2,411.9 357.1,407.9 356.8,407.2 C356.5,406.5 353.9,408.4 356.8,407.2 Z" fill="none" stroke="#000" stroke-linejoin="round" stroke-linecap="round" stroke-width="1.59"/><path d="M340.0,396.0 C341.3,396.0 345.3,395.2 348.0,396.0 C350.7,396.8 354.9,399.1 356.0,400.8 C357.1,402.5 357.1,405.9 354.4,406.4 C351.7,406.9 342.4,404.4 340.0,404.0" fill="none" stroke="#000" stroke-linejoin="round" stroke-linecap="round" stroke-width="1.59"/><path d="M370.4,410.4 C370.7,411.7 371.1,416.8 372.0,418.4 C372.9,420.0 373.3,420.3 376.0,420.0 C378.7,419.7 382.7,418.8 388.0,416.8 C393.3,414.8 404.7,409.5 408.0,408.0" fill="none" stroke="#000" stroke-linejoin="round" stroke-linecap="round" stroke-width="1.59"/><path d="M376.0,420.0 C375.9,421.1 374.8,424.4 375.2,426.4 C375.6,428.4 378.3,430.1 378.4,432.0 C378.5,433.9 376.4,436.7 376.0,437.6" fill="none" stroke="#000" stroke-linejoin="round" stroke-linecap="round" stroke-width="1.46"/><path d="M372.0,415.2 C372.5,415.5 374.4,416.0 375.2,416.8 C376.0,417.6 376.5,419.5 376.8,420.0" fill="none" stroke="#000" stroke-linejoin="round" stroke-linecap="round" stroke-width="1.34"/><path d="M378.4,398.4 C378.7,399.1 379.5,401.1 380.0,402.4 C380.5,403.7 381.3,405.7 381.6,406.4" fill="none" stroke="#000" stroke-linejoin="round" stroke-linecap="round" stroke-width="1.46"/><path d="M381.6,398.4 L383.2,404.0" fill="none" stroke="#000" stroke-linejoin="round" stroke-linecap="round" stroke-width="1.46"/><path d="M355.2,389.6 C356.0,388.8 358.5,385.9 360.0,384.8 C361.5,383.7 363.1,382.7 364.0,383.2 C364.9,383.7 365.9,386.7 365.6,388.0 C365.3,389.3 363.9,390.5 362.4,391.2 C360.9,391.9 358.0,392.3 356.8,392.0 C355.6,391.7 355.5,390.0 355.2,389.6 C354.9,389.2 354.4,390.4 355.2,389.6 Z" fill="none" stroke="#000" stroke-linejoin="round" stroke-linecap="round" stroke-width="1.46"/><path d="M364.0,384.8 L366.4,380.0" fill="none" stroke="#000" stroke-linejoin="round" stroke-linecap="round" stroke-width="1.46"/><path d="M370.4,384.8 L372.0,380.0" fill="none" stroke="#000" stroke-linejoin="round" stroke-linecap="round" stroke-width="1.46"/><path d="M376.8,383.2 L377.6,380.0" fill="none" stroke="#000" stroke-linejoin="round" stroke-linecap="round" stroke-width="1.46"/><path d="M384.8,384.0 L386.4,380.0" fill="none" stroke="#000" stroke-linejoin="round" stroke-linecap="round" stroke-width="1.46"/><path d="M397.6,386.4 C399.3,385.6 404.3,382.4 408.0,381.6 C411.7,380.8 418.0,381.6 420.0,381.6" fill="none" stroke="#000" stroke-linejoin="round" stroke-linecap="round" stroke-width="1.59"/><path d="M412.0,383.2 C412.8,383.7 416.3,385.2 416.8,386.4 C417.3,387.6 415.5,389.7 415.2,390.4" fill="none" stroke="#000" stroke-linejoin="round" stroke-linecap="round" stroke-width="1.46"/><path d="M181.0,431.0 C182.3,431.4 186.3,432.6 189.0,433.4 C191.7,434.2 193.5,433.9 197.0,435.8 C200.5,437.7 206.1,442.6 209.8,444.6 C213.5,446.6 217.8,447.3 219.4,447.8" fill="none" stroke="#000" stroke-linejoin="round" stroke-linecap="round" stroke-width="1.59"/><path d="M181.8,430.2 C183.7,430.3 189.8,430.5 193.0,431.0 C196.2,431.5 198.5,432.1 201.0,433.4 C203.5,434.7 206.5,437.1 208.2,439.0 C209.9,440.9 210.9,443.7 211.4,444.6" fill="none" stroke="#000" stroke-linejoin="round" stroke-linecap="round" stroke-width="1.46"/><path d="M171.4,448.6 L177.0,452.6 L181.0,455.0 L185.8,461.4 L187.4,457.4 L193.0,458.2 L200.2,461.4 L203.4,465.4 L209.8,466.2 L213.0,471.0 L217.8,472.6" fill="none" stroke="#000" stroke-linejoin="round" stroke-linecap="round" stroke-width="1.59"/><path d="M181.0,471.0 L185.8,468.6 L190.6,470.2 L195.4,472.6 L198.6,469.4 L202.6,471.0 L206.6,475.0 L209.8,479.0" fill="none" stroke="#000" stroke-linejoin="round" stroke-linecap="round" stroke-width="1.59"/><path d="M218.6,447.8 C218.5,450.3 217.7,457.1 217.8,463.0 C217.9,468.9 219.1,479.7 219.4,483.0" fill="none" stroke="#000" stroke-linejoin="round" stroke-linecap="round" stroke-width="1.59"/><path d="M219.4,458.2 C222.3,457.0 232.7,452.6 237.0,451.0 C241.3,449.4 243.7,449.0 245.0,448.6" fill="none" stroke="#000" stroke-linejoin="round" stroke-linecap="round" stroke-width="1.59"/><path d="M219.4,463.0 L245.0,453.4" fill="none" stroke="#000" stroke-linejoin="round" stroke-linecap="round" stroke-width="1.59"/><path d="M224.2,466.2 C226.3,465.1 233.8,460.1 237.0,459.8 C240.2,459.5 242.3,462.7 243.4,464.6 C244.5,466.5 245.8,468.9 243.4,471.0 C241.0,473.1 232.2,476.9 229.0,477.4 C225.8,477.9 225.0,476.1 224.2,474.2 C223.4,472.3 224.2,467.5 224.2,466.2 C224.2,464.9 222.1,467.3 224.2,466.2 Z" fill="none" stroke="#000" stroke-linejoin="round" stroke-linecap="round" stroke-width="1.59"/><path d="M195.4,423.0 C197.0,423.0 202.6,422.6 205.0,423.0 C207.4,423.4 209.0,424.3 209.8,425.4 C210.6,426.5 210.9,428.9 209.8,429.4 C208.7,429.9 205.5,429.5 203.4,428.6 C201.3,427.7 198.1,424.6 197.0,423.8" fill="none" stroke="#000" stroke-linejoin="round" stroke-linecap="round" stroke-width="1.59"/><path d="M202.6,415.0 L209.8,423.0" fill="none" stroke="#000" stroke-linejoin="round" stroke-linecap="round" stroke-width="1.46"/><path d="M209.8,416.6 C213.0,419.0 223.8,426.9 229.0,431.0 C234.2,435.1 238.3,439.0 241.0,441.4 C243.7,443.8 244.3,444.7 245.0,445.4" fill="none" stroke="#000" stroke-linejoin="round" stroke-linecap="round" stroke-width="1.59"/><path d="M213.0,415.0 C216.3,417.3 227.7,424.9 233.0,428.6 C238.3,432.3 243.0,435.9 245.0,437.4" fill="none" stroke="#000" stroke-linejoin="round" stroke-linecap="round" stroke-width="1.59"/><path d="M224.2,435.8 C224.9,435.7 227.3,434.2 228.2,435.0 C229.1,435.8 230.2,439.5 229.8,440.6 C229.4,441.7 226.7,442.2 225.8,441.4 C224.9,440.6 224.5,436.7 224.2,435.8 C223.9,434.9 223.5,435.9 224.2,435.8 Z" fill="none" stroke="#000" stroke-linejoin="round" stroke-linecap="round" stroke-width="1.46"/><path d="M233.0,441.4 C234.3,441.8 239.5,442.6 241.0,443.8 C242.5,445.0 242.7,447.8 241.8,448.6 C240.9,449.4 236.9,449.8 235.4,448.6 C233.9,447.4 233.4,442.6 233.0,441.4 C232.6,440.2 231.7,441.0 233.0,441.4 Z" fill="none" stroke="#000" stroke-linejoin="round" stroke-linecap="round" stroke-width="1.46"/><path d="M185.8,431.0 C186.3,431.3 188.6,431.9 189.0,432.6 C189.4,433.3 188.7,434.7 188.2,435.0 C187.7,435.3 186.2,434.3 185.8,434.2" fill="none" stroke="#000" stroke-linejoin="round" stroke-linecap="round" stroke-width="1.34"/><path d="M213.0,471.0 C213.7,472.1 215.7,475.8 217.0,477.4 C218.3,479.0 219.5,480.3 221.0,480.6 C222.5,480.9 225.0,479.3 225.8,479.0" fill="none" stroke="#000" stroke-linejoin="round" stroke-linecap="round" stroke-width="1.46"/><path d="M187.4,458.2 L198.6,459.8" fill="none" stroke="#000" stroke-linejoin="round" stroke-linecap="round" stroke-width="1.34"/><path d="M182.6,415.0 C182.9,416.3 184.1,420.7 184.2,423.0 C184.3,425.3 183.5,427.7 183.4,428.6" fill="none" stroke="#000" stroke-linejoin="round" stroke-linecap="round" stroke-width="1.46"/><path d="M356.4,231.8 C360.0,234.4 373.8,245.2 378.0,247.4 C382.2,249.6 384.4,248.0 381.6,245.0 C378.8,242.0 365.4,231.6 361.2,229.4 C357.0,227.2 357.2,231.4 356.4,231.8 C355.6,232.2 352.8,229.2 356.4,231.8 Z" fill="none" stroke="#000" stroke-linejoin="round" stroke-linecap="round" stroke-width="1.46"/><path d="M361.2,229.4 C362.0,229.0 362.4,224.8 366.0,227.0 C369.6,229.2 380.2,239.6 382.8,242.6 C385.4,245.6 381.8,244.6 381.6,245.0" fill="none" stroke="#000" stroke-linejoin="round" stroke-linecap="round" stroke-width="1.46"/><path d="M349.2,229.4 C350.0,229.0 352.0,227.4 354.0,227.0 C356.0,226.6 360.0,227.0 361.2,227.0" fill="none" stroke="#000" stroke-linejoin="round" stroke-linecap="round" stroke-width="1.46"/><path d="M369.6,227.0 C370.6,226.8 373.8,225.6 375.6,225.8 C377.4,226.0 379.2,227.0 380.4,228.2 C381.6,229.4 382.8,231.4 382.8,233.0 C382.8,234.6 380.8,237.0 380.4,237.8" fill="none" stroke="#000" stroke-linejoin="round" stroke-linecap="round" stroke-width="1.46"/><path d="M382.8,239.0 C383.8,238.8 387.5,237.3 388.8,237.8 C390.1,238.3 391.3,241.0 390.6,242.0 C389.9,243.0 385.9,244.3 384.6,243.8 C383.3,243.3 383.1,239.8 382.8,239.0 C382.5,238.2 381.8,239.2 382.8,239.0 Z" fill="none" stroke="#000" stroke-linejoin="round" stroke-linecap="round" stroke-width="1.46"/><path d="M390.0,219.8 C390.8,219.6 393.6,218.3 394.8,218.6 C396.0,218.9 397.4,220.7 397.2,221.6 C397.0,222.5 394.8,223.9 393.6,224.0 C392.4,224.1 390.6,222.9 390.0,222.2 C389.4,221.5 390.0,220.2 390.0,219.8 C390.0,219.4 389.2,220.0 390.0,219.8 Z" fill="none" stroke="#000" stroke-linejoin="round" stroke-linecap="round" stroke-width="1.46"/><path d="M395.4,228.8 C396.1,228.7 398.7,227.7 399.6,228.2 C400.5,228.7 401.3,231.0 400.8,231.8 C400.3,232.6 397.5,233.5 396.6,233.0 C395.7,232.5 395.6,229.5 395.4,228.8 C395.2,228.1 394.7,228.9 395.4,228.8 Z" fill="none" stroke="#000" stroke-linejoin="round" stroke-linecap="round" stroke-width="1.46"/><path d="M406.8,223.4 C407.8,223.1 411.1,221.4 412.8,221.6 C414.5,221.8 416.6,223.5 417.0,224.6 C417.4,225.7 416.5,227.6 415.2,228.2 C413.9,228.8 410.6,228.6 409.2,228.2 C407.8,227.8 407.2,226.6 406.8,225.8 C406.4,225.0 406.8,223.8 406.8,223.4 C406.8,223.0 405.8,223.7 406.8,223.4 Z" fill="none" stroke="#000" stroke-linejoin="round" stroke-linecap="round" stroke-width="1.46"/><ellipse cx="402" cy="227" rx="1.8" ry="1.6" fill="none" stroke="#000" stroke-width="1.3"/><ellipse cx="401.5" cy="227.5" rx="0.1" ry="0.1" fill="none" stroke="#000" stroke-width="0"/><path d="M333.6,259.4 C336.0,258.6 340.6,256.4 348.0,254.6 C355.4,252.8 369.0,251.4 378.0,248.6 C387.0,245.8 394.0,241.6 402.0,237.8 C410.0,234.0 422.0,227.8 426.0,225.8" fill="none" stroke="#000" stroke-linejoin="round" stroke-linecap="round" stroke-width="1.71"/><path d="M348.0,265.4 C353.0,264.0 367.0,261.0 378.0,257.0 C389.0,253.0 402.0,246.8 414.0,241.4 C426.0,236.0 444.0,227.4 450.0,224.6" fill="none" stroke="#000" stroke-linejoin="round" stroke-linecap="round" stroke-width="1.71"/><path d="M423.6,222.2 C425.2,225.0 430.0,233.0 433.2,239.0 C436.4,245.0 441.2,255.0 442.8,258.2" fill="none" stroke="#000" stroke-linejoin="round" stroke-linecap="round" stroke-width="1.59"/><path d="M432.0,222.2 C433.4,225.0 437.6,233.6 440.4,239.0 C443.2,244.4 447.4,252.0 448.8,254.6" fill="none" stroke="#000" stroke-linejoin="round" stroke-linecap="round" stroke-width="1.59"/><path d="M366.0,289.4 C366.0,287.2 365.4,279.0 366.0,276.2 C366.6,273.4 362.4,277.0 369.6,272.6 C376.8,268.2 400.6,254.6 409.2,249.8 C417.8,245.0 418.4,244.6 421.2,243.8 C424.0,243.0 423.6,242.2 426.0,245.0 C428.4,247.8 433.6,257.4 435.6,260.6 C437.6,263.8 437.6,263.6 438.0,264.2" fill="none" stroke="#000" stroke-linejoin="round" stroke-linecap="round" stroke-width="1.71"/><path d="M369.6,293.0 C369.8,290.8 370.0,282.4 370.8,279.8 C371.6,277.2 367.6,281.4 374.4,277.4 C381.2,273.4 403.8,260.2 411.6,255.8 C419.4,251.4 418.0,249.8 421.2,251.0 C424.4,252.2 429.2,261.0 430.8,263.0" fill="none" stroke="#000" stroke-linejoin="round" stroke-linecap="round" stroke-width="1.59"/><path d="M366.0,289.4 C372.8,286.6 394.8,276.8 406.8,272.6 C418.8,268.4 432.8,265.6 438.0,264.2" fill="none" stroke="#000" stroke-linejoin="round" stroke-linecap="round" stroke-width="1.59"/><path d="M369.6,277.4 C371.4,279.0 378.6,284.4 380.4,287.0 C382.2,289.6 380.4,292.0 380.4,293.0" fill="none" stroke="#000" stroke-linejoin="round" stroke-linecap="round" stroke-width="1.46"/><path d="M385.2,265.4 C386.8,268.2 393.2,278.6 394.8,282.2 C396.4,285.8 394.8,286.2 394.8,287.0" fill="none" stroke="#000" stroke-linejoin="round" stroke-linecap="round" stroke-width="1.46"/><path d="M390.0,263.0 L399.6,279.8" fill="none" stroke="#000" stroke-linejoin="round" stroke-linecap="round" stroke-width="1.46"/><path d="M406.8,251.0 L416.4,272.6" fill="none" stroke="#000" stroke-linejoin="round" stroke-linecap="round" stroke-width="1.46"/><path d="M414.0,257.0 C416.0,258.4 422.8,264.8 426.0,265.4 C429.2,266.0 432.0,261.4 433.2,260.6" fill="none" stroke="#000" stroke-linejoin="round" stroke-linecap="round" stroke-width="1.46"/><path d="M402.0,272.6 C404.0,272.2 411.6,269.8 414.0,270.2 C416.4,270.6 417.4,273.8 416.4,275.0 C415.4,276.2 409.4,277.0 408.0,277.4" fill="none" stroke="#000" stroke-linejoin="round" stroke-linecap="round" stroke-width="1.34"/><path d="M330.0,265.4 C331.2,264.6 334.8,260.4 337.2,260.6 C339.6,260.8 342.6,261.8 344.4,266.6 C346.2,271.4 347.4,285.6 348.0,289.4" fill="none" stroke="#000" stroke-linejoin="round" stroke-linecap="round" stroke-width="1.59"/><path d="M350.4,267.8 L363.6,294.2" fill="none" stroke="#000" stroke-linejoin="round" stroke-linecap="round" stroke-width="1.59"/><path d="M337.2,277.4 C338.4,277.0 343.0,274.2 344.4,275.0 C345.8,275.8 346.4,280.6 345.6,282.2 C344.8,283.8 340.6,284.2 339.6,284.6" fill="none" stroke="#000" stroke-linejoin="round" stroke-linecap="round" stroke-width="1.46"/><path d="M340.8,255.8 C343.0,255.4 350.4,253.4 354.0,253.4 C357.6,253.4 361.6,255.0 362.4,255.8 C363.2,256.6 361.6,257.8 358.8,258.2 C356.0,258.6 347.8,258.2 345.6,258.2" fill="none" stroke="#000" stroke-linejoin="round" stroke-linecap="round" stroke-width="1.46"/><path d="M191.0,296.5 C194.0,293.5 202.0,284.5 209.0,278.5 C216.0,272.5 229.0,263.5 233.0,260.5" fill="none" stroke="#000" stroke-linejoin="round" stroke-linecap="round" stroke-width="1.59"/><path d="M192.5,299.5 C196.0,296.2 206.2,286.1 213.5,280.0 C220.7,273.9 232.2,265.6 236.0,262.7" fill="none" stroke="#000" stroke-linejoin="round" stroke-linecap="round" stroke-width="1.46"/><path d="M230.0,262.0 C232.0,262.5 236.2,263.2 242.0,265.0 C247.7,266.7 260.7,271.2 264.5,272.5" fill="none" stroke="#000" stroke-linejoin="round" stroke-linecap="round" stroke-width="1.59"/><path d="M233.0,259.0 C235.0,259.5 239.7,260.5 245.0,262.0 C250.2,263.5 261.2,267.0 264.5,268.0" fill="none" stroke="#000" stroke-linejoin="round" stroke-linecap="round" stroke-width="1.46"/><ellipse cx="247" cy="274" rx="1.6" ry="1.6" fill="none" stroke="#000" stroke-width="1.4"/><path d="M344.4,320.0 C345.1,320.8 346.4,323.6 348.4,324.8 C350.4,326.0 355.2,326.0 356.4,327.2 C357.6,328.4 355.2,330.8 355.6,332.0 C356.0,333.2 357.7,334.3 358.8,334.4 C359.9,334.5 361.6,334.0 362.0,332.8 C362.4,331.6 360.9,328.8 361.2,327.2 C361.5,325.6 363.5,324.4 363.6,323.2 C363.7,322.0 362.3,320.5 362.0,320.0" fill="none" stroke="#000" stroke-linejoin="round" stroke-linecap="round" stroke-width="1.59"/><path d="M330.0,346.4 C332.0,345.9 338.0,344.3 342.0,343.2 C346.0,342.1 349.9,341.2 354.0,340.0 C358.1,338.8 364.1,337.2 366.8,336.0 C369.5,334.8 369.5,333.3 370.0,332.8" fill="none" stroke="#000" stroke-linejoin="round" stroke-linecap="round" stroke-width="1.59"/><path d="M338.0,347.2 C340.0,347.7 344.9,349.1 350.0,350.4 C355.1,351.7 365.3,354.4 368.4,355.2" fill="none" stroke="#000" stroke-linejoin="round" stroke-linecap="round" stroke-width="1.59"/><path d="M338.0,348.0 C340.7,349.3 348.0,353.3 354.0,356.0 C360.0,358.7 370.7,362.7 374.0,364.0" fill="none" stroke="#000" stroke-linejoin="round" stroke-linecap="round" stroke-width="1.59"/><path d="M378.0,344.0 C378.1,346.7 379.3,356.5 378.8,360.0 C378.3,363.5 376.0,362.1 374.8,364.8 C373.6,367.5 372.4,372.1 371.6,376.0 C370.8,379.9 370.3,386.0 370.0,388.0" fill="none" stroke="#000" stroke-linejoin="round" stroke-linecap="round" stroke-width="1.59"/><path d="M381.2,344.0 C381.5,345.6 382.0,350.9 382.8,353.6 C383.6,356.3 385.2,358.1 386.0,360.0 C386.8,361.9 387.3,364.0 387.6,364.8" fill="none" stroke="#000" stroke-linejoin="round" stroke-linecap="round" stroke-width="1.59"/><path d="M379.6,360.0 C380.1,360.3 382.0,360.3 382.8,361.6 C383.6,362.9 383.9,365.6 384.4,368.0 C384.9,370.4 385.5,373.3 386.0,376.0 C386.5,378.7 387.3,382.7 387.6,384.0" fill="none" stroke="#000" stroke-linejoin="round" stroke-linecap="round" stroke-width="1.46"/><path d="M386.0,364.8 C386.5,364.5 388.1,362.7 389.2,363.2 C390.3,363.7 392.0,365.9 392.4,368.0 C392.8,370.1 392.4,374.7 391.6,376.0 C390.8,377.3 388.5,377.9 387.6,376.0 C386.7,374.1 386.3,366.7 386.0,364.8 C385.7,362.9 385.5,365.1 386.0,364.8 Z" fill="none" stroke="#000" stroke-linejoin="round" stroke-linecap="round" stroke-width="1.46"/><path d="M374.8,364.8 C375.3,364.8 377.2,362.9 378.0,364.8 C378.8,366.7 379.9,373.9 379.6,376.0 C379.3,378.1 377.5,377.6 376.4,377.6 C375.3,377.6 373.7,376.3 373.2,376.0" fill="none" stroke="#000" stroke-linejoin="round" stroke-linecap="round" stroke-width="1.46"/><path d="M370.0,320.0 C371.1,321.6 374.4,325.6 376.4,329.6 C378.4,333.6 381.1,341.6 382.0,344.0" fill="none" stroke="#000" stroke-linejoin="round" stroke-linecap="round" stroke-width="1.59"/><path d="M381.2,344.0 C384.7,345.1 397.9,349.1 402.0,350.4 C406.1,351.7 405.3,351.7 406.0,352.0" fill="none" stroke="#000" stroke-linejoin="round" stroke-linecap="round" stroke-width="1.46"/><path d="M386.0,358.4 L402.0,353.6" fill="none" stroke="#000" stroke-linejoin="round" stroke-linecap="round" stroke-width="1.46"/><path d="M368.4,400.0 C369.3,398.0 371.7,390.7 374.0,388.0 C376.3,385.3 378.9,384.3 382.0,384.0 C385.1,383.7 389.7,385.1 392.4,386.4 C395.1,387.7 397.1,391.1 398.0,392.0" fill="none" stroke="#000" stroke-linejoin="round" stroke-linecap="round" stroke-width="1.59"/><path d="M355.6,390.4 C356.4,388.3 358.8,379.7 360.4,377.6 C362.0,375.5 363.9,376.5 365.2,377.6 C366.5,378.7 368.4,381.9 368.4,384.0 C368.4,386.1 367.3,389.3 365.2,390.4 C363.1,391.5 357.2,390.4 355.6,390.4 C354.0,390.4 354.8,392.5 355.6,390.4 Z" fill="none" stroke="#000" stroke-linejoin="round" stroke-linecap="round" stroke-width="1.46"/><path d="M330.0,390.4 C331.7,389.3 336.4,384.0 340.4,384.0 C344.4,384.0 351.7,389.3 354.0,390.4" fill="none" stroke="#000" stroke-linejoin="round" stroke-linecap="round" stroke-width="1.46"/><path d="M396.4,387.2 L410.0,380.8" fill="none" stroke="#000" stroke-linejoin="round" stroke-linecap="round" stroke-width="1.46"/><path d="M330.0,350.4 C330.5,350.7 332.1,350.7 333.2,352.0 C334.3,353.3 336.1,356.3 336.4,358.4 C336.7,360.5 335.9,362.9 334.8,364.8 C333.7,366.7 330.8,368.8 330.0,369.6" fill="none" stroke="#000" stroke-linejoin="round" stroke-linecap="round" stroke-width="1.46"/><ellipse cx="629.5" cy="206" rx="1.6" ry="2.3" fill="none" stroke="#000" stroke-width="1.2"/><path d="M836.0,502.5 C837.2,501.0 840.2,499.2 842.0,498.0 C843.7,496.7 845.0,495.7 846.5,495.0 C848.0,494.2 849.5,493.0 851.0,493.5 C852.5,494.0 854.5,495.7 855.5,498.0 C856.5,500.2 857.2,503.7 857.0,507.0 C856.7,510.2 854.7,514.5 854.0,517.5 C853.2,520.5 852.5,522.7 852.5,525.0 C852.5,527.2 854.7,529.7 854.0,531.0 C853.2,532.2 849.5,532.7 848.0,532.5 C846.5,532.2 845.5,530.7 845.0,529.5 C844.5,528.2 846.0,526.2 845.0,525.0 C844.0,523.7 841.0,523.2 839.0,522.0 C837.0,520.7 833.7,520.0 833.0,517.5 C832.2,515.0 834.0,509.5 834.5,507.0 C835.0,504.5 834.7,504.0 836.0,502.5 Z" fill="#3659c9" stroke="#070a1e" stroke-width="2.64" stroke-linejoin="round"/><path d="M846.0,530.0 L856.0,529.0 L863.0,538.0 L852.0,541.0 Z" fill="#3659c9" stroke="#070a1e" stroke-width="2.16" stroke-linejoin="round"/><path d="M839.0,504.0 C839.7,503.5 842.0,501.0 843.5,501.0 C845.0,501.0 847.7,502.5 848.0,504.0 C848.2,505.5 846.2,508.7 845.0,510.0 C843.7,511.2 841.2,511.2 840.5,511.5" fill="none" stroke="#070a1e" stroke-width="1.44" stroke-linejoin="round" stroke-linecap="round"/><path d="M837.5,513.0 C838.5,513.5 841.5,515.7 843.5,516.0 C845.5,516.2 848.5,514.7 849.5,514.5" fill="none" stroke="#070a1e" stroke-width="1.44" stroke-linejoin="round" stroke-linecap="round"/><path d="M849.5,498.0 C850.0,498.5 852.2,499.7 852.5,501.0 C852.7,502.2 851.2,504.7 851.0,505.5" fill="none" stroke="#070a1e" stroke-width="1.32" stroke-linejoin="round" stroke-linecap="round"/><path d="M846.5,519.0 C847.0,520.0 848.7,523.2 849.5,525.0 C850.2,526.7 849.2,527.5 851.0,529.5 C852.7,531.5 858.5,535.7 860.0,537.0" fill="none" stroke="#070a1e" stroke-width="1.32" stroke-linejoin="round" stroke-linecap="round"/><path d="M748.8,564.0 C748.8,559.7 749.3,556.5 750.4,554.4 C751.5,552.3 753.1,551.5 755.2,551.2 C757.3,550.9 761.9,551.7 763.2,552.8 C764.5,553.9 764.0,556.0 763.2,557.6 C762.4,559.2 758.9,560.0 758.4,562.4 C757.9,564.8 758.7,567.7 760.0,572.0 C761.3,576.3 764.0,583.2 766.4,588.0 C768.8,592.8 771.7,597.3 774.4,600.8 C777.1,604.3 781.6,606.7 782.4,608.8 C783.2,610.9 780.8,612.5 779.2,613.6 C777.6,614.7 775.2,616.3 772.8,615.2 C770.4,614.1 767.7,610.7 764.8,607.2 C761.9,603.7 757.6,598.9 755.2,594.4 C752.8,589.9 751.5,585.1 750.4,580.0 C749.3,574.9 748.8,568.3 748.8,564.0 Z" fill="#3659c9" stroke="#070a1e" stroke-width="2.64" stroke-linejoin="round"/><path d="M749.0,566.0 L755.0,565.0" fill="none" stroke="#070a1e" stroke-width="1.32" stroke-linejoin="round" stroke-linecap="round"/><path d="M752.2,572.5 L758.2,571.5" fill="none" stroke="#070a1e" stroke-width="1.32" stroke-linejoin="round" stroke-linecap="round"/><path d="M755.4,579.0 L761.4,578.0" fill="none" stroke="#070a1e" stroke-width="1.32" stroke-linejoin="round" stroke-linecap="round"/><path d="M758.6,585.5 L764.6,584.5" fill="none" stroke="#070a1e" stroke-width="1.32" stroke-linejoin="round" stroke-linecap="round"/><path d="M761.8,592.0 L767.8,591.0" fill="none" stroke="#070a1e" stroke-width="1.32" stroke-linejoin="round" stroke-linecap="round"/><path d="M765.0,598.5 L771.0,597.5" fill="none" stroke="#070a1e" stroke-width="1.32" stroke-linejoin="round" stroke-linecap="round"/><path d="M768.2,605.0 L774.2,604.0" fill="none" stroke="#070a1e" stroke-width="1.32" stroke-linejoin="round" stroke-linecap="round"/><path d="M755.2,560.8 C755.5,562.7 755.7,567.5 756.8,572.0 C757.9,576.5 759.5,583.2 761.6,588.0 C763.7,592.8 766.9,597.3 769.6,600.8 C772.3,604.3 776.3,607.5 777.6,608.8" fill="none" stroke="#070a1e" stroke-width="1.32" stroke-linejoin="round" stroke-linecap="round"/><path d="M434.2,736.8 L445.0,731.4 L446.8,722.4 L443.2,717.0 L439.6,711.6 L441.4,708.0 L448.6,706.2 L452.2,709.8 L450.4,720.6 L452.2,733.2 L459.4,740.4 L475.6,753.0 L486.4,763.8 L488.2,769.2 L468.4,780.0 L466.6,767.4 L454.0,751.2 L441.4,744.0 L434.2,740.4 Z" fill="#3659c9" stroke="#070a1e" stroke-width="2.64" stroke-linejoin="round"/><path d="M445.0,735.0 C446.5,736.5 450.1,740.7 454.0,744.0 C457.9,747.3 463.9,751.2 468.4,754.8 C472.9,758.4 478.9,763.8 481.0,765.6" fill="none" stroke="#070a1e" stroke-width="1.44" stroke-linejoin="round" stroke-linecap="round"/><path d="M443.2,740.4 C445.0,741.9 449.8,745.8 454.0,749.4 C458.2,753.0 466.0,759.9 468.4,762.0" fill="none" stroke="#070a1e" stroke-width="1.32" stroke-linejoin="round" stroke-linecap="round"/><path d="M445.0,711.6 C445.6,712.8 448.1,715.8 448.6,718.8 C449.0,721.8 447.8,727.8 447.7,729.6" fill="none" stroke="#070a1e" stroke-width="1.32" stroke-linejoin="round" stroke-linecap="round"/><path d="M555.2,688.4 L558.8,686.0 L560.0,681.2 L562.4,671.6 L566.0,668.0 L570.8,671.6 L567.2,680.0 L566.0,683.6 L594.8,701.6 L597.2,706.4 L580.4,714.8 L555.2,690.8 Z" fill="#3659c9" stroke="#070a1e" stroke-width="2.64" stroke-linejoin="round"/><path d="M560.0,685.0 L558.0,691.0" fill="none" stroke="#070a1e" stroke-width="1.32" stroke-linejoin="round" stroke-linecap="round"/><path d="M565.5,688.2 L563.5,694.2" fill="none" stroke="#070a1e" stroke-width="1.32" stroke-linejoin="round" stroke-linecap="round"/><path d="M571.0,691.4 L569.0,697.4" fill="none" stroke="#070a1e" stroke-width="1.32" stroke-linejoin="round" stroke-linecap="round"/><path d="M576.5,694.6 L574.5,700.6" fill="none" stroke="#070a1e" stroke-width="1.32" stroke-linejoin="round" stroke-linecap="round"/><path d="M582.0,697.8 L580.0,703.8" fill="none" stroke="#070a1e" stroke-width="1.32" stroke-linejoin="round" stroke-linecap="round"/><path d="M587.5,701.0 L585.5,707.0" fill="none" stroke="#070a1e" stroke-width="1.32" stroke-linejoin="round" stroke-linecap="round"/><path d="M477.4,816.0 L493.6,812.4 L508.0,819.6 L526.0,834.0 L536.8,844.8 L542.2,841.2 L551.2,839.4 L553.0,848.4 L540.4,853.8 L533.2,857.4 L526.0,862.8 L518.8,861.0 L517.0,848.4 L504.4,834.0 L490.0,825.0 L479.2,821.4 Z" fill="#3659c9" stroke="#070a1e" stroke-width="2.64" stroke-linejoin="round"/><path d="M484.6,819.6 C487.3,820.8 495.7,823.5 500.8,826.8 C505.9,830.1 511.0,835.2 515.2,839.4 C519.4,843.6 524.2,849.9 526.0,852.0" fill="none" stroke="#070a1e" stroke-width="1.44" stroke-linejoin="round" stroke-linecap="round"/><path d="M526.0,852.0 L529.6,859.2" fill="none" stroke="#070a1e" stroke-width="1.32" stroke-linejoin="round" stroke-linecap="round"/><path d="M846.5,540.0 L851.0,538.5 L860.0,537.0 L867.5,535.5 L878.0,541.5 L885.5,537.0 L890.0,535.5 L891.5,543.0 L890.0,552.0 L890.0,570.0 L896.0,573.0 L899.0,576.0 L899.0,585.0 L893.0,588.0 L888.5,588.0 L890.0,600.0 L884.0,607.5 L881.0,619.5 L875.0,624.0 L870.5,622.5 L866.0,615.0 L863.0,600.0 L863.0,585.0 L857.0,576.0 L851.0,564.0 L846.5,549.0 Z" fill="#3659c9" stroke="#070a1e" stroke-width="2.64" stroke-linejoin="round"/><path d="M854.0,543.0 C854.5,543.5 856.7,544.7 857.0,546.0 C857.2,547.2 855.7,549.7 855.5,550.5" fill="none" stroke="#070a1e" stroke-width="1.44" stroke-linejoin="round" stroke-linecap="round"/><path d="M872.0,544.5 C872.5,545.2 875.0,547.2 875.0,549.0 C875.0,550.7 871.5,553.5 872.0,555.0 C872.5,556.5 876.0,558.5 878.0,558.0 C880.0,557.5 883.0,553.0 884.0,552.0" fill="none" stroke="#070a1e" stroke-width="1.44" stroke-linejoin="round" stroke-linecap="round"/><path d="M878.0,543.0 C878.7,544.0 881.0,548.5 882.5,549.0 C884.0,549.5 886.2,546.5 887.0,546.0" fill="none" stroke="#070a1e" stroke-width="1.44" stroke-linejoin="round" stroke-linecap="round"/><path d="M867.5,582.0 C868.2,582.5 870.2,584.7 872.0,585.0 C873.7,585.2 876.5,582.5 878.0,583.5 C879.5,584.5 881.0,588.7 881.0,591.0 C881.0,593.2 879.5,596.5 878.0,597.0 C876.5,597.5 873.0,594.5 872.0,594.0" fill="none" stroke="#070a1e" stroke-width="1.44" stroke-linejoin="round" stroke-linecap="round"/><path d="M870.5,588.0 C870.7,589.0 872.0,591.5 872.0,594.0 C872.0,596.5 870.0,600.5 870.5,603.0 C871.0,605.5 874.5,606.5 875.0,609.0 C875.5,611.5 873.7,616.5 873.5,618.0" fill="none" stroke="#070a1e" stroke-width="1.44" stroke-linejoin="round" stroke-linecap="round"/><path d="M881.0,594.0 C881.5,595.0 884.0,597.5 884.0,600.0 C884.0,602.5 882.0,606.5 881.0,609.0 C880.0,611.5 878.5,614.0 878.0,615.0" fill="none" stroke="#070a1e" stroke-width="1.44" stroke-linejoin="round" stroke-linecap="round"/><path d="M887.0,570.0 C887.2,571.2 888.7,575.0 888.5,577.5 C888.2,580.0 886.0,583.7 885.5,585.0" fill="none" stroke="#070a1e" stroke-width="1.44" stroke-linejoin="round" stroke-linecap="round"/><path d="M891.5,576.0 C892.2,576.5 895.5,577.5 896.0,579.0 C896.5,580.5 894.7,584.0 894.5,585.0" fill="none" stroke="#070a1e" stroke-width="1.44" stroke-linejoin="round" stroke-linecap="round"/><ellipse cx="870.5" cy="588.0" rx="1.5" ry="2" fill="none" stroke="#070a1e" stroke-width="1.1"/><path d="M758.4,636.0 L768.0,632.8 L772.8,637.6 L771.2,644.0 L761.6,645.6 Z" fill="#3659c9" stroke="#070a1e" stroke-width="2.40" stroke-linejoin="round"/><path d="M763.2,637.6 C764.0,637.5 766.9,636.3 768.0,636.8 C769.1,637.3 769.3,640.1 769.6,640.8" fill="none" stroke="#070a1e" stroke-width="1.32" stroke-linejoin="round" stroke-linecap="round"/><path d="M804.5,610.5 L812.0,606.0 L818.0,606.0 L819.5,612.0 L813.5,616.5 L807.5,616.5 Z" fill="#3659c9" stroke="#070a1e" stroke-width="2.40" stroke-linejoin="round"/><path d="M648.0,672.8 L656.0,669.6 L659.2,674.4 L652.8,677.6 Z" fill="#3659c9" stroke="#070a1e" stroke-width="2.16" stroke-linejoin="round"/><path d="M680.8,686.0 L688.0,704.0 L684.4,718.4 L706.0,722.0 L709.6,718.4 L716.8,740.0 L724.0,743.6 L727.6,727.4 L738.4,740.0 L742.0,750.8 L745.6,747.2 L738.4,729.2 L738.4,704.0 L742.0,696.8 L745.6,686.0 L742.0,677.0 L742.0,664.4 L738.4,659.0 L742.0,650.0 L720.0,652.0 L700.0,660.0 Z" fill="#3659c9" stroke="#070a1e" stroke-width="2.64" stroke-linejoin="round"/><path d="M690.0,700.0 C691.7,702.5 696.3,711.3 700.0,715.0 C703.7,718.7 708.7,718.2 712.0,722.0 C715.3,725.8 718.7,735.3 720.0,738.0" fill="none" stroke="#070a1e" stroke-width="1.44" stroke-linejoin="round" stroke-linecap="round"/><path d="M728.0,680.0 C728.3,683.3 728.8,693.3 730.0,700.0 C731.2,706.7 733.3,713.3 735.0,720.0 C736.7,726.7 739.2,736.7 740.0,740.0" fill="none" stroke="#070a1e" stroke-width="1.44" stroke-linejoin="round" stroke-linecap="round"/><path d="M716.0,690.0 C716.7,693.3 718.7,703.3 720.0,710.0 C721.3,716.7 723.3,726.7 724.0,730.0" fill="none" stroke="#070a1e" stroke-width="1.32" stroke-linejoin="round" stroke-linecap="round"/><path d="M700.0,670.0 L705.0,685.0" fill="none" stroke="#070a1e" stroke-width="1.32" stroke-linejoin="round" stroke-linecap="round"/><path d="M665.6,588.0 L672.0,581.6 L680.0,578.4 L686.4,581.6 L747.2,629.6 L745.6,634.4 L734.4,639.2 L720.0,652.0 L704.0,658.4 L692.8,664.8 L691.2,658.4 L688.0,648.8 L688.0,642.4 L681.6,636.0 L680.0,629.6 L681.6,620.0 L673.6,613.6 L668.8,607.2 L670.4,600.8 L672.0,592.8 L667.2,592.8 Z" fill="#3659c9" stroke="#070a1e" stroke-width="2.64" stroke-linejoin="round"/><path d="M675.2,586.4 C680.0,589.9 694.9,601.1 704.0,607.2 C713.1,613.3 722.7,618.9 729.6,623.2 C736.5,627.5 742.9,631.2 745.6,632.8" fill="none" stroke="#070a1e" stroke-width="1.68" stroke-linejoin="round" stroke-linecap="round"/><path d="M688.0,600.8 C692.0,603.7 704.0,611.7 712.0,618.4 C720.0,625.1 732.0,637.1 736.0,640.8" fill="none" stroke="#070a1e" stroke-width="1.68" stroke-linejoin="round" stroke-linecap="round"/><path d="M678.4,591.2 C680.8,591.5 689.9,591.5 692.8,592.8 C695.7,594.1 695.5,598.1 696.0,599.2" fill="none" stroke="#070a1e" stroke-width="1.44" stroke-linejoin="round" stroke-linecap="round"/><path d="M724.8,629.6 C726.1,630.7 730.4,633.9 732.8,636.0 C735.2,638.1 738.1,641.3 739.2,642.4" fill="none" stroke="#070a1e" stroke-width="1.44" stroke-linejoin="round" stroke-linecap="round"/><rect x="705.6" y="605.6" width="6.4" height="4.0" rx="1.2" fill="none" stroke="#070a1e" stroke-width="1.1" transform="rotate(35 705.6 605.6)"/><rect x="715.2" y="612.0" width="5.6" height="3.5" rx="1.2" fill="none" stroke="#070a1e" stroke-width="1.1" transform="rotate(35 715.2 612.0)"/><rect x="723.2" y="618.4" width="4.8" height="3.2" rx="1.2" fill="none" stroke="#070a1e" stroke-width="1.1" transform="rotate(35 723.2 618.4)"/><rect x="688.0" y="588.0" width="4.8" height="3.2" rx="1.2" fill="none" stroke="#070a1e" stroke-width="1.1" transform="rotate(35 688.0 588.0)"/><rect x="680.0" y="583.2" width="4.0" height="2.9" rx="1.2" fill="none" stroke="#070a1e" stroke-width="1.1" transform="rotate(35 680.0 583.2)"/><rect x="708.8" y="615.2" width="3.2" height="2.2" rx="1.2" fill="none" stroke="#070a1e" stroke-width="1.1" transform="rotate(35 708.8 615.2)"/><path d="M672.0,607.2 C673.1,607.7 676.8,608.8 678.4,610.4 C680.0,612.0 681.9,614.7 681.6,616.8 C681.3,618.9 677.6,622.1 676.8,623.2" fill="none" stroke="#070a1e" stroke-width="1.44" stroke-linejoin="round" stroke-linecap="round"/><path d="M681.6,629.6 C682.7,630.1 686.4,631.2 688.0,632.8 C689.6,634.4 691.2,637.1 691.2,639.2 C691.2,641.3 688.5,644.5 688.0,645.6" fill="none" stroke="#070a1e" stroke-width="1.44" stroke-linejoin="round" stroke-linecap="round"/><path d="M688.0,652.0 C688.8,652.5 691.7,653.6 692.8,655.2 C693.9,656.8 694.1,660.5 694.4,661.6" fill="none" stroke="#070a1e" stroke-width="1.44" stroke-linejoin="round" stroke-linecap="round"/><path d="M668.8,610.4 L672.0,615.2" fill="none" stroke="#070a1e" stroke-width="1.32" stroke-linejoin="round" stroke-linecap="round"/><path d="M697.6,650.4 C699.2,649.6 702.9,646.9 707.2,645.6 C711.5,644.3 718.4,643.5 723.2,642.4 C728.0,641.3 733.9,639.7 736.0,639.2" fill="none" stroke="#070a1e" stroke-width="1.56" stroke-linejoin="round" stroke-linecap="round"/><path d="M615.0,699.0 C620.8,695.7 635.8,687.2 650.0,679.0 C664.2,670.8 684.3,659.2 700.0,650.0 C715.7,640.8 730.7,631.4 744.0,623.5 C757.3,615.6 770.7,607.9 780.0,602.5 C789.3,597.1 791.7,595.7 800.0,591.0 C808.3,586.3 819.7,580.0 830.0,574.3 C840.3,568.6 856.7,559.9 862.0,557.0 C868,556 873,560 874,567 C875,574 872,579 866,580 L863.0,579.0 C857.7,581.9 841.3,590.6 831.0,596.3 C820.7,602.0 809.3,608.3 801.0,613.0 C792.7,617.7 790.3,619.1 781.0,624.5 C771.7,629.9 758.3,637.6 745.0,645.5 C731.7,653.4 716.7,662.8 701.0,672.0 C685.3,681.2 665.2,692.8 651.0,701.0 C636.8,709.2 621.8,717.7 616.0,721.0 Z" fill="#3659c9" stroke="#070a1e" stroke-width="2.8" stroke-linejoin="round"/><ellipse cx="676.0" cy="669.5" rx="1.6" ry="1.3" fill="none" stroke="#070a1e" stroke-width="1.1"/><path d="M445.0,793.0 C454.2,788.0 481.7,773.5 500.0,763.0 C518.3,752.5 538.3,739.8 555.0,730.0 C571.7,720.2 588.8,710.0 600.0,704.0 C611.2,698.0 618.3,695.7 622.0,694.0 L626,700 L628,722 L624.0,734.0 C620.3,735.7 613.2,738.0 602.0,744.0 C590.8,750.0 573.7,760.2 557.0,770.0 C540.3,779.8 520.3,792.5 502.0,803.0 C483.7,813.5 456.2,828.0 447.0,833.0 Z" fill="#3659c9" stroke="#070a1e" stroke-width="2.8" stroke-linejoin="round"/><path d="M603.6,704.8 C604.6,706.4 608.0,710.8 609.6,714.4 C611.2,718.0 612.6,724.4 613.2,726.4" fill="none" stroke="#070a1e" stroke-width="1.56" stroke-linejoin="round" stroke-linecap="round"/><path d="M615.6,701.2 C616.6,702.6 620.2,706.6 621.6,709.6 C623.0,712.6 623.6,717.6 624.0,719.2" fill="none" stroke="#070a1e" stroke-width="1.56" stroke-linejoin="round" stroke-linecap="round"/><ellipse cx="498.0" cy="788.0" rx="2" ry="1.6" fill="none" stroke="#070a1e" stroke-width="1.2"/><path d="M503.0,786.0 L505.0,788.0" fill="none" stroke="#070a1e" stroke-width="1.32" stroke-linejoin="round" stroke-linecap="round"/><ellipse cx="601.0" cy="740.0" rx="1.6" ry="1.3" fill="none" stroke="#070a1e" stroke-width="1.1"/><path d="M500.8,762.0 L508.0,758.4 L515.2,760.2 L526.0,769.2 L536.8,787.2 L547.6,801.6 L549.4,812.4 L542.2,816.0 L544.0,823.2 L540.4,825.0 L536.8,816.0 L529.6,812.4 L518.8,798.0 L508.0,790.8 L503.5,776.4 Z" fill="#3659c9" stroke="#070a1e" stroke-width="2.64" stroke-linejoin="round"/><path d="M509.8,769.2 C511.3,771.6 515.5,778.2 518.8,783.6 C522.1,789.0 526.0,796.2 529.6,801.6 C533.2,807.0 538.6,813.6 540.4,816.0" fill="none" stroke="#070a1e" stroke-width="1.44" stroke-linejoin="round" stroke-linecap="round"/><path d="M517.0,765.6 C518.5,768.0 522.7,774.6 526.0,780.0 C529.3,785.4 533.8,793.2 536.8,798.0 C539.8,802.8 542.8,807.0 544.0,808.8" fill="none" stroke="#070a1e" stroke-width="1.44" stroke-linejoin="round" stroke-linecap="round"/><ellipse cx="524.2" cy="778.2" rx="2" ry="2.5" fill="none" stroke="#070a1e" stroke-width="1.2"/><ellipse cx="527.8" cy="785.4" rx="2.2" ry="2.5" fill="none" stroke="#070a1e" stroke-width="1.2"/><path d="M536.8,805.2 C537.7,804.6 541.0,801.3 542.2,801.6 C543.4,801.9 544.3,805.8 544.0,807.0 C543.7,808.2 541.0,808.5 540.4,808.8" fill="none" stroke="#070a1e" stroke-width="1.32" stroke-linejoin="round" stroke-linecap="round"/><path d="M533.0,734.0 L545.0,728.0 L556.0,730.0 L565.0,742.0 L573.0,756.0 L580.0,772.8 L586.0,790.0 L588.0,799.0 L583.0,802.0 L583.0,808.0 L579.0,808.0 L578.0,800.0 L566.0,792.0 L553.0,775.0 L543.0,758.0 Z" fill="#3659c9" stroke="#070a1e" stroke-width="2.64" stroke-linejoin="round"/><path d="M545.0,745.0 C546.8,746.7 552.5,750.8 556.0,755.0 C559.5,759.2 562.3,764.2 566.0,770.0 C569.7,775.8 576.0,786.7 578.0,790.0" fill="none" stroke="#070a1e" stroke-width="1.44" stroke-linejoin="round" stroke-linecap="round"/><path d="M548.0,737.0 C550.0,738.5 556.0,741.7 560.0,746.0 C564.0,750.3 568.3,756.5 572.0,763.0 C575.7,769.5 580.3,781.3 582.0,785.0" fill="none" stroke="#070a1e" stroke-width="1.32" stroke-linejoin="round" stroke-linecap="round"/><ellipse cx="560.0" cy="762.0" rx="1.8" ry="2.2" fill="none" stroke="#070a1e" stroke-width="1.2"/><path d="M616.0,718.0 L639.0,704.0 L648.0,709.0 L652.0,722.0 L681.0,735.0 L688.0,751.0 L699.0,754.0 L701.0,772.0 L688.0,780.0 L681.0,790.0 L666.0,794.0 L643.0,796.0 L630.0,799.0 L616.0,807.0 L606.0,810.0 L603.0,790.0 L606.0,760.0 L610.0,735.0 Z" fill="#3659c9" stroke="#070a1e" stroke-width="2.64" stroke-linejoin="round"/><path d="M598.0,729.2 C600.4,732.8 607.6,743.6 612.4,750.8 C617.2,758.0 621.7,765.2 626.8,772.4 C631.9,779.6 640.3,790.4 643.0,794.0" fill="none" stroke="#070a1e" stroke-width="1.56" stroke-linejoin="round" stroke-linecap="round"/><path d="M616.0,729.2 C617.8,731.6 622.9,738.2 626.8,743.6 C630.7,749.0 635.8,756.2 639.4,761.6 C643.0,767.0 646.9,773.6 648.4,776.0" fill="none" stroke="#070a1e" stroke-width="1.44" stroke-linejoin="round" stroke-linecap="round"/><path d="M652.0,722.0 C653.2,722.6 656.8,724.4 659.2,725.6 C661.6,726.8 664.0,728.0 666.4,729.2 C668.8,730.4 671.2,731.9 673.6,732.8 C676.0,733.7 679.6,734.3 680.8,734.6" fill="none" stroke="#070a1e" stroke-width="1.44" stroke-linejoin="round" stroke-linecap="round"/><path d="M655.6,727.4 C657.1,728.6 661.6,733.1 664.6,734.6 C667.6,736.1 672.1,736.1 673.6,736.4" fill="none" stroke="#070a1e" stroke-width="1.32" stroke-linejoin="round" stroke-linecap="round"/><path d="M680.8,736.4 C681.7,737.6 685.0,741.2 686.2,743.6 C687.4,746.0 687.7,749.6 688.0,750.8" fill="none" stroke="#070a1e" stroke-width="1.32" stroke-linejoin="round" stroke-linecap="round"/><path d="M691.6,758.0 C692.2,759.2 694.9,762.5 695.2,765.2 C695.5,767.9 694.6,772.4 693.4,774.2 C692.2,776.0 688.9,775.7 688.0,776.0" fill="none" stroke="#070a1e" stroke-width="1.44" stroke-linejoin="round" stroke-linecap="round"/><path d="M666.4,783.2 C667.6,782.6 671.2,779.6 673.6,779.6 C676.0,779.6 680.2,781.7 680.8,783.2 C681.4,784.7 679.0,787.7 677.2,788.6 C675.4,789.5 671.2,788.6 670.0,788.6" fill="none" stroke="#070a1e" stroke-width="1.44" stroke-linejoin="round" stroke-linecap="round"/><path d="M652.0,786.8 C653.2,786.5 657.4,784.4 659.2,785.0 C661.0,785.6 662.2,789.5 662.8,790.4" fill="none" stroke="#070a1e" stroke-width="1.32" stroke-linejoin="round" stroke-linecap="round"/><path d="M634.0,725.6 C634.9,726.2 638.2,727.4 639.4,729.2 C640.6,731.0 640.9,735.2 641.2,736.4" fill="none" stroke="#070a1e" stroke-width="1.32" stroke-linejoin="round" stroke-linecap="round"/><path d="M659.2,758.0 C660.1,758.0 663.4,756.8 664.6,758.0 C665.8,759.2 666.1,764.0 666.4,765.2" fill="none" stroke="#070a1e" stroke-width="1.32" stroke-linejoin="round" stroke-linecap="round"/><ellipse cx="670.0" cy="735.5" rx="2" ry="2.6" fill="none" stroke="#070a1e" stroke-width="1.2"/><path d="M578.0,748.0 L593.0,756.0 L601.0,762.0 L610.0,770.0 L616.0,780.0 L620.0,783.0 L627.0,784.0 L629.0,795.0 L625.0,797.0 L614.0,799.0 L607.0,801.0 L607.0,795.0 L610.0,783.0 L606.0,774.0 L601.0,766.0 L593.0,761.0 L580.0,758.0 Z" fill="#3659c9" stroke="#070a1e" stroke-width="2.40" stroke-linejoin="round"/><path d="M588.0,756.0 C590.0,757.5 596.7,761.7 600.0,765.0 C603.3,768.3 606.7,774.2 608.0,776.0" fill="none" stroke="#070a1e" stroke-width="1.32" stroke-linejoin="round" stroke-linecap="round"/><path d="M598.0,813.0 L612.5,805.0 L629.0,797.0 L653.0,792.0 L663.0,791.0 L671.0,795.0 L683.0,787.0 L688.0,781.0 L692.0,789.0 L676.0,800.0 L658.0,801.0 L651.5,808.0 L657.0,818.0 L663.0,831.0 L668.0,841.0 L674.0,852.0 L674.0,857.0 L668.0,860.0 L658.0,857.0 L653.0,850.5 L645.0,839.0 L638.5,824.5 L636.0,818.0 L623.0,819.0 L616.0,826.0 L614.0,834.0 L607.0,832.0 L606.0,824.5 L601.0,823.0 L597.0,818.0 Z" fill="#3659c9" stroke="#070a1e" stroke-width="2.64" stroke-linejoin="round"/><path d="M603.0,815.0 C605.8,813.8 613.8,810.5 620.0,808.0 C626.2,805.5 633.3,802.0 640.0,800.0 C646.7,798.0 656.7,796.7 660.0,796.0" fill="none" stroke="#070a1e" stroke-width="1.44" stroke-linejoin="round" stroke-linecap="round"/><path d="M645.0,806.0 C646.2,809.2 649.5,819.0 652.0,825.0 C654.5,831.0 657.3,837.0 660.0,842.0 C662.7,847.0 666.7,852.8 668.0,855.0" fill="none" stroke="#070a1e" stroke-width="1.44" stroke-linejoin="round" stroke-linecap="round"/><path d="M606.0,820.0 L612.0,830.0" fill="none" stroke="#070a1e" stroke-width="1.32" stroke-linejoin="round" stroke-linecap="round"/><path d="M410.8,762.0 L410.8,753.0 L418.0,751.2 L419.8,758.4 L419.8,767.4 L427.0,765.6 L430.6,758.4 L436.0,760.2 L437.8,772.8 L434.2,785.4 L441.4,790.8 L445.0,798.0 L425.2,799.8 L414.4,767.4 Z" fill="#3659c9" stroke="#070a1e" stroke-width="2.64" stroke-linejoin="round"/><path d="M418.0,758.4 C418.9,759.6 421.9,763.2 423.4,765.6 C424.9,768.0 425.5,770.4 427.0,772.8 C428.5,775.2 430.3,777.6 432.4,780.0 C434.5,782.4 438.4,786.0 439.6,787.2" fill="none" stroke="#070a1e" stroke-width="1.44" stroke-linejoin="round" stroke-linecap="round"/><path d="M410.8,801.6 L414.4,796.2 L421.6,798.0 L425.2,794.4 L436.0,794.4 L445.0,796.2 L454.0,808.8 L455.8,816.0 L454.0,830.4 L459.4,841.2 L468.4,843.0 L472.0,852.0 L466.6,861.0 L455.8,862.8 L439.6,861.0 L428.8,859.2 L419.8,855.6 L418.0,834.0 L416.2,819.6 L412.6,812.4 Z" fill="#3659c9" stroke="#070a1e" stroke-width="2.64" stroke-linejoin="round"/><path d="M427.0,801.6 C427.0,805.8 426.7,817.2 427.0,826.8 C427.3,836.4 428.5,853.8 428.8,859.2" fill="none" stroke="#070a1e" stroke-width="1.56" stroke-linejoin="round" stroke-linecap="round"/><path d="M436.0,798.0 C436.3,802.8 437.2,816.6 437.8,826.8 C438.4,837.0 439.3,853.8 439.6,859.2" fill="none" stroke="#070a1e" stroke-width="1.56" stroke-linejoin="round" stroke-linecap="round"/><path d="M443.2,805.2 C443.8,807.0 446.5,811.2 446.8,816.0 C447.1,820.8 444.7,829.2 445.0,834.0 C445.3,838.8 448.0,843.0 448.6,844.8" fill="none" stroke="#070a1e" stroke-width="1.44" stroke-linejoin="round" stroke-linecap="round"/><ellipse cx="425.2" cy="839.4" rx="2" ry="2.4" fill="none" stroke="#070a1e" stroke-width="1.2"/><ellipse cx="427.0" cy="828.6" rx="1.8" ry="2.2" fill="none" stroke="#070a1e" stroke-width="1.2"/><ellipse cx="459.4" cy="852.0" rx="2.5" ry="2.5" fill="none" stroke="#070a1e" stroke-width="1.2"/><path d="M419.8,805.2 L421.6,816.0" fill="none" stroke="#070a1e" stroke-width="1.32" stroke-linejoin="round" stroke-linecap="round"/><path d="M710.2,114.2 L717.0,107.4 L725.5,102.3 L728.1,90.4 L728.9,81.9 L734.0,78.5 L739.1,80.2 L751.0,88.7 L764.6,100.6 L774.8,112.5 L783.3,124.4 L781.6,129.5 L774.8,132.9 L771.4,126.1 L759.5,119.3 L756.1,126.1 L757.8,132.9 L756.1,138.0 L751.0,141.4 L749.3,149.9 L742.5,153.3 L739.1,149.9 L737.4,144.8 L727.2,139.7 L723.8,134.6 L717.0,126.1 L711.9,121.0 Z" fill="#fff" stroke="#000" stroke-width="2.30" stroke-linejoin="round"/><path d="M728.9,81.9 C729.5,82.5 730.0,83.6 732.3,85.3 C734.6,87.0 738.5,89.6 742.5,92.1 C746.5,94.7 751.9,97.5 756.1,100.6 C760.4,103.7 764.3,107.1 768.0,110.8 C771.7,114.5 775.7,120.5 778.2,122.7 C780.8,125.0 782.5,124.1 783.3,124.4" fill="none" stroke="#000" stroke-width="1.80" stroke-linejoin="round" stroke-linecap="round"/><path d="M730.6,87.0 C732.0,88.1 735.7,91.3 739.1,93.8 C742.5,96.4 747.3,99.5 751.0,102.3 C754.7,105.1 757.8,107.7 761.2,110.8 C764.6,113.9 768.9,117.9 771.4,121.0 C774.0,124.1 775.7,128.1 776.5,129.5" fill="none" stroke="#000" stroke-width="1.56" stroke-linejoin="round" stroke-linecap="round"/><path d="M726.4,111.7 L734.0,104.9 L751.0,112.5 L753.1,126.1 L743.4,132.6 L728.1,127.5 L726.4,111.7" fill="none" stroke="#000" stroke-width="1.80" stroke-linejoin="round" stroke-linecap="round"/><path d="M718.7,109.1 L725.5,102.3" fill="none" stroke="#000" stroke-width="1.44" stroke-linejoin="round" stroke-linecap="round"/><ellipse cx="734.0" cy="92.1" rx="3.8" ry="2.4" fill="none" stroke="#000" stroke-width="1.1"/><ellipse cx="740.8" cy="97.2" rx="3.3" ry="2.2" fill="none" stroke="#000" stroke-width="1.1"/><ellipse cx="745.9" cy="104.0" rx="3.3" ry="2.4" fill="none" stroke="#000" stroke-width="1.1"/><ellipse cx="752.7" cy="107.4" rx="2.7" ry="2.2" fill="none" stroke="#000" stroke-width="1.1"/><ellipse cx="759.5" cy="114.2" rx="3.3" ry="2.4" fill="none" stroke="#000" stroke-width="1.1"/><ellipse cx="766.3" cy="119.3" rx="3.3" ry="2.4" fill="none" stroke="#000" stroke-width="1.1"/><ellipse cx="769.7" cy="126.1" rx="2.7" ry="2.2" fill="none" stroke="#000" stroke-width="1.1"/><ellipse cx="732.3" cy="98.9" rx="2.7" ry="1.9" fill="none" stroke="#000" stroke-width="1.1"/><ellipse cx="751.0" cy="112.5" rx="2.4" ry="1.9" fill="none" stroke="#000" stroke-width="1.1"/><ellipse cx="739.1" cy="88.7" rx="2.7" ry="1.9" fill="none" stroke="#000" stroke-width="1.1"/><path d="M711.9,121.0 C713.0,120.5 716.7,117.6 718.7,117.6 C720.7,117.6 723.5,119.3 723.8,121.0 C724.1,122.7 721.0,126.7 720.4,127.8" fill="none" stroke="#000" stroke-width="1.44" stroke-linejoin="round" stroke-linecap="round"/><path d="M739.1,141.4 C740.0,140.9 742.2,138.0 744.2,138.0 C746.2,138.0 750.2,139.7 751.0,141.4 C751.9,143.1 749.6,147.1 749.3,148.2" fill="none" stroke="#000" stroke-width="1.44" stroke-linejoin="round" stroke-linecap="round"/><path d="M727.2,134.6 C728.3,133.8 731.7,129.5 734.0,129.5 C736.3,129.5 739.7,133.8 740.8,134.6" fill="none" stroke="#000" stroke-width="1.44" stroke-linejoin="round" stroke-linecap="round"/><path d="M311.2,602.4 L328.8,595.2 L329.6,587.2 L332.8,580.8 L339.2,580.0 L344.0,582.4 L345.6,586.4 L352.0,584.0 L358.4,584.0 L361.6,590.4 L377.6,603.2 L380.8,608.0 L388.8,617.6 L387.2,620.8 L364.8,632.0 L358.4,640.0 L348.8,643.2 L342.4,643.2 L339.2,640.0 L336.0,636.8 L323.2,627.2 L316.8,627.2 L316.8,620.8 L315.2,614.4 L312.0,608.0 Z" fill="#fff" stroke="#000" stroke-width="2.30" stroke-linejoin="round"/><path d="M312.0,603.2 C319.2,600.4 346.9,588.5 355.2,586.4 C363.5,584.3 360.5,589.7 361.6,590.4" fill="none" stroke="#000" stroke-width="1.68" stroke-linejoin="round" stroke-linecap="round"/><path d="M313.6,608.0 C321.1,605.3 350.1,593.9 358.4,592.0 C366.7,590.1 362.4,596.0 363.2,596.8" fill="none" stroke="#000" stroke-width="1.68" stroke-linejoin="round" stroke-linecap="round"/><path d="M363.2,596.8 C365.6,598.4 374.7,604.3 377.6,606.4 C380.5,608.5 380.3,609.1 380.8,609.6" fill="none" stroke="#000" stroke-width="1.56" stroke-linejoin="round" stroke-linecap="round"/><path d="M318.4,614.4 C321.3,613.9 332.5,612.0 336.0,611.2 C339.5,610.4 337.9,610.1 339.2,609.6 C340.5,609.1 341.9,608.8 344.0,608.0 C346.1,607.2 348.8,605.9 352.0,604.8 C355.2,603.7 358.4,600.8 363.2,601.6 C368.0,602.4 377.9,608.3 380.8,609.6" fill="none" stroke="#000" stroke-width="1.56" stroke-linejoin="round" stroke-linecap="round"/><path d="M320.0,620.8 C321.1,623.5 323.7,633.9 326.4,636.8 C329.1,639.7 334.4,638.1 336.0,638.4" fill="none" stroke="#000" stroke-width="1.56" stroke-linejoin="round" stroke-linecap="round"/><path d="M339.2,609.6 C341.3,612.5 348.3,623.2 352.0,627.2 C355.7,631.2 360.0,632.5 361.6,633.6" fill="none" stroke="#000" stroke-width="1.56" stroke-linejoin="round" stroke-linecap="round"/><path d="M344.0,608.0 C346.1,611.2 353.6,623.2 356.8,627.2 C360.0,631.2 362.1,631.2 363.2,632.0" fill="none" stroke="#000" stroke-width="1.56" stroke-linejoin="round" stroke-linecap="round"/><path d="M352.0,604.8 C354.1,608.0 358.9,621.6 364.8,624.0 C370.7,626.4 383.5,620.0 387.2,619.2" fill="none" stroke="#000" stroke-width="1.56" stroke-linejoin="round" stroke-linecap="round"/><path d="M329.6,617.6 C330.7,617.3 333.9,616.0 336.0,616.0 C338.1,616.0 340.3,615.2 342.4,617.6 C344.5,620.0 347.2,626.7 348.8,630.4 C350.4,634.1 351.5,638.4 352.0,640.0" fill="none" stroke="#000" stroke-width="1.44" stroke-linejoin="round" stroke-linecap="round"/><ellipse cx="336.0" cy="585.6" rx="3" ry="2" fill="none" stroke="#000" stroke-width="1.3"/><ellipse cx="348.8" cy="636.5" rx="2.6" ry="2" fill="none" stroke="#000" stroke-width="1.3"/><path d="M315.2,614.4 C315.5,616.5 316.3,624.8 316.8,627.2 C317.3,629.6 318.1,628.5 318.4,628.8" fill="none" stroke="#000" stroke-width="1.44" stroke-linejoin="round" stroke-linecap="round"/><ellipse cx="643" cy="553.5" rx="17" ry="17.5" fill="#fff" stroke="#000" stroke-width="2"/><ellipse cx="648" cy="551.5" rx="12" ry="13" fill="#fff" stroke="#000" stroke-width="1.5"/><path d="M641.0,544.0 C640.7,545.3 639.0,549.3 639.0,552.0 C639.0,554.7 640.0,558.5 641.0,560.0 C642.0,561.5 643.7,561.7 645.0,561.0 C646.3,560.3 648.5,557.8 649.0,556.0 C649.5,554.2 648.7,551.2 648.0,550.0 C647.3,548.8 645.5,549.2 645.0,549.0" fill="none" stroke="#000" stroke-width="1.44" stroke-linejoin="round" stroke-linecap="round"/><path d="M632.0,542.0 C631.5,543.8 628.8,549.3 629.0,553.0 C629.2,556.7 631.2,561.3 633.0,564.0 C634.8,566.7 638.8,568.2 640.0,569.0" fill="none" stroke="#000" stroke-width="1.44" stroke-linejoin="round" stroke-linecap="round"/><path d="M559.0,514.0 L561.0,504.0 L564.0,500.0 L568.0,496.0 L573.0,494.0 L578.0,496.0 L578.0,500.0 L581.0,504.0 L590.0,510.0 L593.0,513.0 L592.0,516.0 L588.0,514.0 L584.0,510.0 L583.0,518.0 L580.0,523.0 L577.0,526.0 L574.0,525.0 L560.0,516.0 Z" fill="#fff" stroke="#000" stroke-width="2.18" stroke-linejoin="round"/><path d="M561.0,504.0 C562.5,504.5 567.8,505.7 570.0,507.0 C572.2,508.3 572.7,510.8 574.0,512.0 C575.3,513.2 576.5,514.3 578.0,514.0 C579.5,513.7 582.2,510.7 583.0,510.0" fill="none" stroke="#000" stroke-width="1.56" stroke-linejoin="round" stroke-linecap="round"/><path d="M564.0,500.0 C564.8,500.3 566.7,502.0 569.0,502.0 C571.3,502.0 576.5,500.3 578.0,500.0" fill="none" stroke="#000" stroke-width="1.44" stroke-linejoin="round" stroke-linecap="round"/><path d="M574.0,512.0 C574.3,513.0 575.0,516.3 576.0,518.0 C577.0,519.7 579.3,521.3 580.0,522.0" fill="none" stroke="#000" stroke-width="1.44" stroke-linejoin="round" stroke-linecap="round"/><path d="M578.0,500.0 C578.7,500.7 581.2,502.3 582.0,504.0 C582.8,505.7 582.8,509.0 583.0,510.0" fill="none" stroke="#000" stroke-width="1.44" stroke-linejoin="round" stroke-linecap="round"/><path d="M564.0,504.0 C565.3,506.7 569.8,516.5 572.0,520.0 C574.2,523.5 576.2,524.2 577.0,525.0" fill="none" stroke="#000" stroke-width="1.44" stroke-linejoin="round" stroke-linecap="round"/><path d="M503.5,434.8 L544,464.3 C546.5,466 547,469.5 545,471.5 C543,473.5 540,473.5 538,472 L497.5,442.5 Z" fill="#fff" stroke="#000" stroke-width="2" stroke-linejoin="round"/><path d="M523.6,450.9 L520.0,457.3" fill="none" stroke="#000" stroke-width="1.44" stroke-linejoin="round" stroke-linecap="round"/><path d="M526.9,453.3 L523.3,459.7" fill="none" stroke="#000" stroke-width="1.44" stroke-linejoin="round" stroke-linecap="round"/><path d="M530.2,455.7 L526.6,462.1" fill="none" stroke="#000" stroke-width="1.44" stroke-linejoin="round" stroke-linecap="round"/><path d="M533.5,458.1 L529.9,464.5" fill="none" stroke="#000" stroke-width="1.44" stroke-linejoin="round" stroke-linecap="round"/><path d="M536.7,460.5 L533.1,466.9" fill="none" stroke="#000" stroke-width="1.44" stroke-linejoin="round" stroke-linecap="round"/><ellipse cx="542" cy="468.5" rx="2.6" ry="3.6" transform="rotate(-50 542 468.5)" fill="none" stroke="#000" stroke-width="1.3"/><path d="M491,432 L495,428 L501,428 L506,431 L507,437 L505,442 L499,445 L493,444 L490,439 Z" fill="#fff" stroke="#000" stroke-width="1.9" stroke-linejoin="round"/><ellipse cx="501" cy="439" rx="5.5" ry="5" fill="#fff" stroke="#000" stroke-width="1.6"/><path d="M495.0,429.0 L497.0,434.0" fill="none" stroke="#000" stroke-width="1.20" stroke-linejoin="round" stroke-linecap="round"/><path d="M839.8,791.2 L843.4,785.8 L848.8,784.0 L852.4,780.4 L865.0,773.2 L868.6,771.4 L879.4,766.0 L884.8,764.2 L883.0,755.2 L886.6,748.0 L892.0,746.2 L897.4,748.0 L901.0,751.6 L904.6,755.2 L910.0,751.6 L913.6,748.0 L920.8,740.8 L931.6,735.4 L938.8,733.6 L937.0,731.8 L940.6,730.0 L946.0,731.8 L951.4,731.8 L955.0,735.4 L955.9,740.8 L953.2,744.4 L946.0,744.4 L942.4,746.2 L935.2,749.8 L926.2,755.2 L917.2,757.0 L906.4,760.6 L904.6,764.2 L899.2,767.8 L892.0,769.6 L884.8,771.4 L874.0,778.6 L865.0,784.0 L856.0,789.4 L852.4,794.8 L852.4,802.0 L848.8,803.8 L843.4,803.8 L841.6,798.4 L839.8,794.8 Z" fill="#fff" stroke="#000" stroke-width="2.18" stroke-linejoin="round"/><path d="M848.8,784.0 C850.0,783.7 853.3,783.4 856.0,782.2 C858.7,781.0 862.0,778.3 865.0,776.8 C868.0,775.3 871.0,774.4 874.0,773.2 C877.0,772.0 881.5,770.2 883.0,769.6" fill="none" stroke="#000" stroke-width="1.44" stroke-linejoin="round" stroke-linecap="round"/><path d="M852.4,794.8 C853.6,793.9 856.0,791.5 859.6,789.4 C863.2,787.3 869.8,784.6 874.0,782.2 C878.2,779.8 883.0,776.2 884.8,775.0" fill="none" stroke="#000" stroke-width="1.44" stroke-linejoin="round" stroke-linecap="round"/><path d="M852.4,780.4 C852.7,779.2 852.4,774.7 854.2,773.2 C856.0,771.7 861.1,771.4 863.2,771.4 C865.3,771.4 866.2,772.9 866.8,773.2" fill="none" stroke="#000" stroke-width="1.44" stroke-linejoin="round" stroke-linecap="round"/><path d="M913.6,748.0 C913.9,747.1 913.9,744.1 915.4,742.6 C916.9,741.1 920.2,739.9 922.6,739.0 C925.0,738.1 928.6,737.5 929.8,737.2" fill="none" stroke="#000" stroke-width="1.44" stroke-linejoin="round" stroke-linecap="round"/><path d="M906.4,760.6 C907.6,759.7 911.2,756.4 913.6,755.2 C916.0,754.0 917.8,754.3 920.8,753.4 C923.8,752.5 929.8,750.4 931.6,749.8" fill="none" stroke="#000" stroke-width="1.44" stroke-linejoin="round" stroke-linecap="round"/><path d="M886.6,748.0 C887.5,748.9 890.5,751.6 892.0,753.4 C893.5,755.2 894.7,756.7 895.6,758.8 C896.5,760.9 897.1,764.8 897.4,766.0" fill="none" stroke="#000" stroke-width="1.44" stroke-linejoin="round" stroke-linecap="round"/><path d="M892.0,753.4 L901.0,751.6" fill="none" stroke="#000" stroke-width="1.44" stroke-linejoin="round" stroke-linecap="round"/><ellipse cx="899.2" cy="762.4" rx="3.3" ry="3.5" fill="none" stroke="#000" stroke-width="1.4"/><ellipse cx="899.2" cy="762.4" rx="1.3" ry="1.4" fill="none" stroke="#000" stroke-width="1"/><path d="M938.8,733.6 C939.7,734.3 943.0,736.4 944.2,738.1 C945.4,739.7 945.7,742.6 946.0,743.5" fill="none" stroke="#000" stroke-width="1.44" stroke-linejoin="round" stroke-linecap="round"/><path d="M946.0,731.8 C946.6,732.7 948.4,735.1 949.6,737.2 C950.8,739.3 952.6,743.2 953.2,744.4" fill="none" stroke="#000" stroke-width="1.44" stroke-linejoin="round" stroke-linecap="round"/><path d="M841.6,789.4 C842.5,789.5 845.8,789.1 847.0,790.3 C848.2,791.5 848.5,795.5 848.8,796.6" fill="none" stroke="#000" stroke-width="1.44" stroke-linejoin="round" stroke-linecap="round"/><path d="M578.5,879.2 L580.0,878.5 L588.2,878.2 L593.5,883.0 L597.2,885.2 L600.2,904.0 L610.0,913.0 L611.5,940.0 L607.7,939.2 L605.5,934.0 L588.2,926.5 L584.5,922.0 L583.7,895.0 L578.5,892.0 L577.3,881.5 Z" fill="#fff" stroke="#000" stroke-width="2.18" stroke-linejoin="round"/><path d="M588.2,878.2 C588.9,879.5 590.9,881.7 592.0,886.0 C593.1,890.3 592.7,899.2 595.0,904.0 C597.2,908.7 603.2,909.5 605.5,914.5 C607.7,919.5 608.0,930.7 608.5,934.0" fill="none" stroke="#000" stroke-width="1.56" stroke-linejoin="round" stroke-linecap="round"/><path d="M584.5,901.0 C585.2,900.7 587.2,899.2 589.0,899.5 C590.7,899.7 593.7,901.2 595.0,902.5 C596.2,903.7 597.0,905.7 596.5,907.0 C596.0,908.2 593.5,909.7 592.0,910.0 C590.5,910.2 588.5,909.5 587.5,908.5 C586.5,907.5 586.2,904.7 586.0,904.0" fill="none" stroke="#000" stroke-width="1.56" stroke-linejoin="round" stroke-linecap="round"/><ellipse cx="592.0" cy="903.2" rx="2.4" ry="2.2" fill="none" stroke="#000" stroke-width="1.2"/><path d="M586.0,916.0 L588.2,923.5" fill="none" stroke="#000" stroke-width="1.44" stroke-linejoin="round" stroke-linecap="round"/><path d="M593.5,920.5 L598.0,923.5" fill="none" stroke="#000" stroke-width="1.32" stroke-linejoin="round" stroke-linecap="round"/><path d="M599.5,928.0 L604.0,929.5" fill="none" stroke="#000" stroke-width="1.32" stroke-linejoin="round" stroke-linecap="round"/><path d="M580.0,890.5 C580.2,891.0 581.5,892.7 581.5,893.5 C581.5,894.2 580.2,894.7 580.0,895.0" fill="none" stroke="#000" stroke-width="1.32" stroke-linejoin="round" stroke-linecap="round"/><path d="M580.0,880.0 L580.7,882.2" fill="none" stroke="#000" stroke-width="1.32" stroke-linejoin="round" stroke-linecap="round"/><path d="M681.0,886.7 L684.0,886.2 L711.7,903.5 L713.2,923.0 L712.5,937.2 L708.0,937.2 L684.7,921.5 L685.5,918.5 L684.0,917.0 L678.7,896.0 Z" fill="#fff" stroke="#000" stroke-width="2.18" stroke-linejoin="round"/><path d="M682.5,887.0 C682.9,888.5 683.7,891.7 684.7,896.0 C685.7,900.2 688.0,909.0 688.5,912.5 C689.0,916.0 687.9,916.2 687.7,917.0" fill="none" stroke="#000" stroke-width="1.56" stroke-linejoin="round" stroke-linecap="round"/><path d="M684.0,897.5 L709.5,908.0" fill="none" stroke="#000" stroke-width="1.44" stroke-linejoin="round" stroke-linecap="round"/><path d="M688.5,912.5 C691.7,914.2 704.1,921.2 708.0,923.0 C711.9,924.7 711.1,923.0 711.7,923.0" fill="none" stroke="#000" stroke-width="1.56" stroke-linejoin="round" stroke-linecap="round"/><path d="M685.5,918.5 C689.2,920.2 703.5,927.0 708.0,929.0 C712.5,931.0 711.7,930.2 712.5,930.5" fill="none" stroke="#000" stroke-width="1.44" stroke-linejoin="round" stroke-linecap="round"/><path d="M708.0,905.0 C708.2,908.0 709.2,918.0 709.5,923.0 C709.7,928.0 709.5,933.0 709.5,935.0" fill="none" stroke="#000" stroke-width="1.44" stroke-linejoin="round" stroke-linecap="round"/><ellipse cx="692.2" cy="896.7" rx="2.4" ry="2.6" fill="none" stroke="#000" stroke-width="1.2"/><path d="M699.0,908.0 C699.7,908.2 702.2,909.5 703.5,909.5 C704.7,909.5 706.0,908.2 706.5,908.0" fill="none" stroke="#000" stroke-width="1.44" stroke-linejoin="round" stroke-linecap="round"/><path d="M690.0,900.5 C690.7,900.7 693.4,901.9 694.5,902.0 C695.6,902.1 696.4,901.4 696.7,901.2" fill="none" stroke="#000" stroke-width="1.44" stroke-linejoin="round" stroke-linecap="round"/>
</svg>
</body></html>
